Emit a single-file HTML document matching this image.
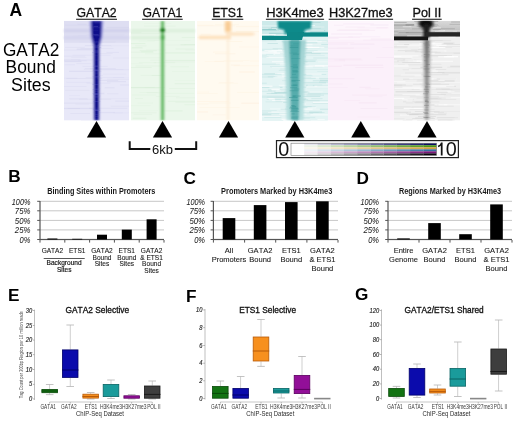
<!DOCTYPE html>
<html><head><meta charset="utf-8"><style>
html,body{margin:0;padding:0;background:#fff;width:520px;height:421px;overflow:hidden}
svg{display:block;font-family:"Liberation Sans", sans-serif;font-kerning:none;filter:blur(0.4px)}
</style></head><body>
<svg width="520" height="421" viewBox="0 0 520 421">
<defs>
<linearGradient id="tealcol" x1="0" y1="0" x2="0" y2="1"><stop offset="0" stop-color="#4aa6a6"/><stop offset="0.6" stop-color="#54abab"/><stop offset="1" stop-color="#62b2b2"/></linearGradient>
<linearGradient id="tealcolH" x1="0" y1="0" x2="0" y2="1"><stop offset="0" stop-color="#a0d2d2"/><stop offset="1" stop-color="#b8e0e0"/></linearGradient>
<linearGradient id="graycol" x1="0" y1="0" x2="0" y2="1"><stop offset="0" stop-color="#707070"/><stop offset="1" stop-color="#b0b0b0"/></linearGradient>
<linearGradient id="graycolH" x1="0" y1="0" x2="0" y2="1"><stop offset="0" stop-color="#b8b8b8"/><stop offset="1" stop-color="#dcdcdc"/></linearGradient>
<linearGradient id="graytop" x1="0" y1="0" x2="0" y2="1"><stop offset="0" stop-color="#dadada"/><stop offset="1" stop-color="#b2b2b2"/></linearGradient>
<clipPath id="hmclip"><rect x="0" y="20.8" width="520" height="99.8"/></clipPath>
<filter id="b05" x="-20%" y="-50%" width="140%" height="200%"><feGaussianBlur stdDeviation="0.5"/></filter>
<filter id="b1" x="-30%" y="-10%" width="160%" height="120%"><feGaussianBlur stdDeviation="0.9"/></filter>
<filter id="b15" x="-30%" y="-10%" width="160%" height="120%"><feGaussianBlur stdDeviation="1.5"/></filter>
</defs>
<rect width="520" height="421" fill="#fff"/>
<text x="9.6" y="15.6" font-size="17.5" text-anchor="start" font-weight="bold" font-style="normal" fill="#000">A</text>
<text x="31.15" y="55.8" font-size="17.5" text-anchor="middle" font-weight="normal" font-style="normal" fill="#000" textLength="56.4" lengthAdjust="spacingAndGlyphs">GATA2</text>
<text x="30.7" y="73.3" font-size="17.5" text-anchor="middle" font-weight="normal" font-style="normal" fill="#000" textLength="50.2" lengthAdjust="spacingAndGlyphs">Bound</text>
<text x="30.85" y="91.1" font-size="17.5" text-anchor="middle" font-weight="normal" font-style="normal" fill="#000" textLength="39.6" lengthAdjust="spacingAndGlyphs">Sites</text>
<text x="96.55" y="16.5" font-size="12.3" text-anchor="middle" font-weight="normal" font-style="normal" fill="#111" textLength="40.1" lengthAdjust="spacingAndGlyphs" stroke="#111" stroke-width="0.3">GATA2</text>
<rect x="76.1" y="18.7" width="40.9" height="1.2" fill="#333"/>
<text x="162.4" y="16.5" font-size="12.3" text-anchor="middle" font-weight="normal" font-style="normal" fill="#111" textLength="39.8" lengthAdjust="spacingAndGlyphs" stroke="#111" stroke-width="0.3">GATA1</text>
<rect x="142.1" y="18.7" width="40.6" height="1.2" fill="#333"/>
<text x="227.55" y="16.5" font-size="12.3" text-anchor="middle" font-weight="normal" font-style="normal" fill="#111" textLength="30.7" lengthAdjust="spacingAndGlyphs" stroke="#111" stroke-width="0.3">ETS1</text>
<rect x="211.8" y="18.7" width="31.5" height="1.2" fill="#333"/>
<text x="295" y="16.5" font-size="12.3" text-anchor="middle" font-weight="normal" font-style="normal" fill="#111" textLength="57.4" lengthAdjust="spacingAndGlyphs" stroke="#111" stroke-width="0.3">H3K4me3</text>
<rect x="265.9" y="18.7" width="58.2" height="1.2" fill="#333"/>
<text x="360.9" y="16.5" font-size="12.3" text-anchor="middle" font-weight="normal" font-style="normal" fill="#111" textLength="63.6" lengthAdjust="spacingAndGlyphs" stroke="#111" stroke-width="0.3">H3K27me3</text>
<rect x="328.7" y="18.7" width="64.4" height="1.2" fill="#333"/>
<text x="426.9" y="16.5" font-size="12.3" text-anchor="middle" font-weight="normal" font-style="normal" fill="#111" textLength="28.8" lengthAdjust="spacingAndGlyphs" stroke="#111" stroke-width="0.3">Pol II</text>
<rect x="412.1" y="18.7" width="29.6" height="1.2" fill="#333"/>
<g clip-path="url(#hmclip)">
<rect x="64" y="20.8" width="65" height="99.8" fill="#e8e8f8"/>
<rect x="64" y="20.8" width="65" height="22" fill="#dedef2"/>
<rect x="99.9" y="53.1" width="12.8" height="0.6" fill="#d0d0ec" opacity="0.41"/>
<rect x="109.8" y="30.2" width="19.2" height="0.8" fill="#d0d0ec" opacity="0.21"/>
<rect x="64.8" y="64.1" width="10.2" height="1.2" fill="#d0d0ec" opacity="0.21"/>
<rect x="85.8" y="77.2" width="38.3" height="0.6" fill="#d0d0ec" opacity="0.34"/>
<rect x="64.0" y="60.4" width="22.6" height="0.8" fill="#d0d0ec" opacity="0.27"/>
<rect x="78.2" y="35.2" width="11.8" height="0.8" fill="#d0d0ec" opacity="0.23"/>
<rect x="64.0" y="77.8" width="13.3" height="0.6" fill="#d0d0ec" opacity="0.34"/>
<rect x="86.6" y="82.6" width="23.9" height="1.0" fill="#d0d0ec" opacity="0.32"/>
<rect x="70.4" y="113.0" width="19.6" height="0.8" fill="#d0d0ec" opacity="0.37"/>
<rect x="84.9" y="45.2" width="26.4" height="1.0" fill="#d0d0ec" opacity="0.38"/>
<rect x="64.0" y="49.5" width="27.4" height="1.2" fill="#d0d0ec" opacity="0.24"/>
<rect x="72.5" y="54.9" width="37.9" height="0.6" fill="#d0d0ec" opacity="0.39"/>
<rect x="66.4" y="78.0" width="36.0" height="1.0" fill="#d0d0ec" opacity="0.35"/>
<rect x="107.3" y="78.7" width="21.7" height="1.0" fill="#d0d0ec" opacity="0.32"/>
<rect x="104.6" y="87.1" width="9.9" height="1.2" fill="#d0d0ec" opacity="0.27"/>
<rect x="64.0" y="59.3" width="16.2" height="1.2" fill="#d0d0ec" opacity="0.29"/>
<rect x="66.3" y="81.8" width="23.8" height="1.0" fill="#d0d0ec" opacity="0.23"/>
<rect x="110.4" y="45.5" width="18.6" height="0.6" fill="#d0d0ec" opacity="0.24"/>
<rect x="64.5" y="60.9" width="16.9" height="1.2" fill="#d0d0ec" opacity="0.42"/>
<rect x="76.7" y="48.6" width="21.3" height="1.2" fill="#d0d0ec" opacity="0.44"/>
<rect x="72.3" y="35.9" width="13.6" height="0.8" fill="#d0d0ec" opacity="0.20"/>
<rect x="75.4" y="103.7" width="13.8" height="0.8" fill="#d0d0ec" opacity="0.30"/>
<rect x="112.9" y="57.7" width="16.1" height="0.6" fill="#d0d0ec" opacity="0.31"/>
<rect x="89.0" y="107.7" width="38.5" height="1.2" fill="#d0d0ec" opacity="0.30"/>
<rect x="78.3" y="60.1" width="23.4" height="0.8" fill="#d0d0ec" opacity="0.22"/>
<rect x="79.5" y="41.6" width="13.2" height="0.6" fill="#d0d0ec" opacity="0.23"/>
<rect x="113.1" y="77.4" width="15.9" height="0.6" fill="#d0d0ec" opacity="0.22"/>
<rect x="95.2" y="41.6" width="20.0" height="1.0" fill="#d0d0ec" opacity="0.35"/>
<rect x="89.9" y="68.1" width="11.7" height="1.2" fill="#d0d0ec" opacity="0.32"/>
<rect x="106.4" y="51.9" width="12.6" height="1.0" fill="#d0d0ec" opacity="0.32"/>
<rect x="65.1" y="89.9" width="24.5" height="1.0" fill="#d0d0ec" opacity="0.24"/>
<rect x="93.9" y="75.0" width="8.9" height="0.6" fill="#d0d0ec" opacity="0.37"/>
<rect x="65.0" y="46.9" width="19.7" height="0.8" fill="#d0d0ec" opacity="0.33"/>
<rect x="69.2" y="98.5" width="18.5" height="0.8" fill="#d0d0ec" opacity="0.40"/>
<rect x="64.0" y="102.5" width="30.6" height="1.2" fill="#d0d0ec" opacity="0.29"/>
<rect x="77.7" y="23.7" width="8.9" height="1.0" fill="#d0d0ec" opacity="0.25"/>
<rect x="107.0" y="81.2" width="19.0" height="1.0" fill="#d0d0ec" opacity="0.44"/>
<rect x="71.2" y="57.2" width="15.1" height="0.8" fill="#d0d0ec" opacity="0.28"/>
<rect x="83.9" y="69.0" width="39.5" height="0.6" fill="#d0d0ec" opacity="0.32"/>
<rect x="64.0" y="86.0" width="22.3" height="0.6" fill="#d0d0ec" opacity="0.43"/>
<rect x="79.1" y="98.9" width="32.0" height="0.8" fill="#d0d0ec" opacity="0.31"/>
<rect x="120.1" y="84.3" width="8.9" height="1.2" fill="#d0d0ec" opacity="0.32"/>
<rect x="69.0" y="95.0" width="10.7" height="0.8" fill="#d0d0ec" opacity="0.21"/>
<rect x="95.2" y="79.8" width="22.9" height="1.2" fill="#d0d0ec" opacity="0.36"/>
<rect x="64.0" y="55.8" width="21.3" height="0.6" fill="#d0d0ec" opacity="0.40"/>
<rect x="107.1" y="93.3" width="11.3" height="0.8" fill="#d0d0ec" opacity="0.31"/>
<rect x="64.0" y="107.8" width="30.9" height="1.0" fill="#d0d0ec" opacity="0.25"/>
<rect x="69.0" y="70.8" width="32.4" height="1.2" fill="#d0d0ec" opacity="0.41"/>
<rect x="106.5" y="26.9" width="22.5" height="1.2" fill="#d0d0ec" opacity="0.41"/>
<rect x="67.8" y="108.4" width="12.2" height="0.6" fill="#d0d0ec" opacity="0.42"/>
<rect x="100.7" y="98.3" width="27.5" height="0.8" fill="#d0d0ec" opacity="0.24"/>
<rect x="84.6" y="68.1" width="31.2" height="1.0" fill="#d0d0ec" opacity="0.37"/>
<rect x="102.8" y="73.8" width="23.4" height="0.6" fill="#d0d0ec" opacity="0.26"/>
<rect x="80.6" y="48.4" width="32.7" height="0.6" fill="#d0d0ec" opacity="0.39"/>
<rect x="92.7" y="111.9" width="22.2" height="0.8" fill="#d0d0ec" opacity="0.37"/>
<rect x="82.5" y="65.9" width="25.1" height="0.8" fill="#d0d0ec" opacity="0.37"/>
<rect x="64.0" y="108.3" width="35.9" height="0.8" fill="#d0d0ec" opacity="0.41"/>
<rect x="86.8" y="34.5" width="11.9" height="0.6" fill="#d0d0ec" opacity="0.37"/>
<rect x="76.3" y="63.5" width="14.8" height="0.6" fill="#d0d0ec" opacity="0.42"/>
<rect x="91.5" y="36.2" width="30.9" height="0.8" fill="#d0d0ec" opacity="0.26"/>
<rect x="101.1" y="34.5" width="23.0" height="0.6" fill="#d0d0ec" opacity="0.30"/>
<rect x="98.3" y="69.4" width="30.7" height="0.8" fill="#d0d0ec" opacity="0.38"/>
<rect x="80.9" y="120.0" width="20.9" height="1.0" fill="#d0d0ec" opacity="0.28"/>
<rect x="95.7" y="92.9" width="8.6" height="1.2" fill="#d0d0ec" opacity="0.38"/>
<rect x="70.9" y="59.2" width="24.6" height="0.6" fill="#d0d0ec" opacity="0.23"/>
<rect x="113.3" y="112.5" width="15.3" height="0.6" fill="#d0d0ec" opacity="0.27"/>
<rect x="65.1" y="24.8" width="32.9" height="0.8" fill="#d0d0ec" opacity="0.40"/>
<rect x="110.7" y="105.6" width="18.3" height="1.2" fill="#d0d0ec" opacity="0.24"/>
<rect x="96.4" y="112.5" width="26.3" height="0.6" fill="#d0d0ec" opacity="0.27"/>
<rect x="115.3" y="100.6" width="13.7" height="1.0" fill="#d0d0ec" opacity="0.43"/>
<g filter="url(#b1)"><rect x="64" y="29.2" width="65" height="3" fill="#d0d0ec"/><rect x="64" y="36.2" width="65" height="3" fill="#d4d4ee"/></g>
<g filter="url(#b1)"><polygon points="89.5,20.8 103.5,20.8 102.5,37 100,46 99.6,120.6 93.4,120.6 93,46 90.5,37" fill="#8080d4" opacity="0.7"/><polygon points="91.6,20.8 101.4,20.8 101,36 99,45 98.8,120.6 94.4,120.6 94.1,45 92,36" fill="#08088a"/></g>
<rect x="92.4" y="84.1" width="6.8" height="0.8" fill="#7070d0" opacity="0.27"/>
<rect x="93.0" y="27.4" width="7.0" height="0.8" fill="#7070d0" opacity="0.18"/>
<rect x="92.5" y="76.0" width="7.2" height="0.8" fill="#7070d0" opacity="0.14"/>
<rect x="93.4" y="73.4" width="4.8" height="0.8" fill="#7070d0" opacity="0.15"/>
<rect x="93.9" y="25.8" width="4.7" height="0.8" fill="#7070d0" opacity="0.17"/>
<rect x="94.1" y="96.6" width="5.0" height="0.8" fill="#7070d0" opacity="0.15"/>
<rect x="94.1" y="55.4" width="4.1" height="0.8" fill="#7070d0" opacity="0.12"/>
<rect x="93.0" y="94.0" width="5.9" height="0.8" fill="#7070d0" opacity="0.21"/>
<rect x="95.1" y="114.1" width="4.4" height="0.8" fill="#7070d0" opacity="0.20"/>
<rect x="92.9" y="70.2" width="6.9" height="0.8" fill="#7070d0" opacity="0.21"/>
<rect x="92.6" y="89.4" width="7.4" height="0.8" fill="#7070d0" opacity="0.27"/>
<rect x="93.3" y="91.3" width="6.2" height="0.8" fill="#7070d0" opacity="0.18"/>
<rect x="93.5" y="26.2" width="4.5" height="0.8" fill="#7070d0" opacity="0.25"/>
<rect x="93.5" y="46.3" width="4.6" height="0.8" fill="#7070d0" opacity="0.27"/>
<rect x="93.0" y="107.7" width="6.3" height="0.8" fill="#7070d0" opacity="0.16"/>
<rect x="93.1" y="50.0" width="5.6" height="0.8" fill="#7070d0" opacity="0.20"/>
<rect x="93.9" y="47.1" width="7.4" height="0.8" fill="#7070d0" opacity="0.22"/>
<rect x="92.5" y="45.2" width="7.4" height="0.8" fill="#7070d0" opacity="0.18"/>
<rect x="93.9" y="20.9" width="5.3" height="0.8" fill="#7070d0" opacity="0.21"/>
<rect x="92.7" y="40.9" width="5.8" height="0.8" fill="#7070d0" opacity="0.17"/>
<rect x="93.0" y="29.8" width="5.4" height="0.8" fill="#7070d0" opacity="0.12"/>
<rect x="94.4" y="51.2" width="4.8" height="0.8" fill="#7070d0" opacity="0.22"/>
<rect x="93.9" y="95.7" width="6.3" height="0.8" fill="#7070d0" opacity="0.28"/>
<rect x="95.0" y="59.7" width="5.1" height="0.8" fill="#7070d0" opacity="0.15"/>
<rect x="92.6" y="93.1" width="6.3" height="0.8" fill="#7070d0" opacity="0.27"/>
<rect x="94.0" y="109.8" width="6.2" height="0.8" fill="#7070d0" opacity="0.27"/>
<rect x="93.7" y="34.7" width="5.8" height="0.8" fill="#7070d0" opacity="0.27"/>
<rect x="93.3" y="101.1" width="6.9" height="0.8" fill="#7070d0" opacity="0.28"/>
<rect x="92.8" y="89.0" width="6.4" height="0.8" fill="#7070d0" opacity="0.13"/>
<rect x="93.2" y="34.1" width="5.3" height="0.8" fill="#7070d0" opacity="0.27"/>
<rect x="93.8" y="76.5" width="6.2" height="0.8" fill="#7070d0" opacity="0.24"/>
<rect x="95.2" y="69.6" width="4.0" height="0.8" fill="#7070d0" opacity="0.25"/>
<rect x="94.0" y="71.0" width="5.9" height="0.8" fill="#7070d0" opacity="0.13"/>
<rect x="93.3" y="94.3" width="4.9" height="0.8" fill="#7070d0" opacity="0.17"/>
<rect x="94.7" y="93.6" width="4.7" height="0.8" fill="#7070d0" opacity="0.30"/>
<rect x="93.9" y="70.1" width="5.3" height="0.8" fill="#7070d0" opacity="0.24"/>
<rect x="93.8" y="97.3" width="6.2" height="0.8" fill="#7070d0" opacity="0.13"/>
<rect x="94.6" y="35.5" width="4.9" height="0.8" fill="#7070d0" opacity="0.17"/>
<rect x="93.7" y="77.5" width="4.0" height="0.8" fill="#7070d0" opacity="0.17"/>
<rect x="93.7" y="87.9" width="6.4" height="0.8" fill="#7070d0" opacity="0.17"/>
<rect x="93.7" y="72.4" width="5.6" height="0.8" fill="#7070d0" opacity="0.14"/>
<rect x="95.2" y="110.0" width="4.7" height="0.8" fill="#7070d0" opacity="0.29"/>
<rect x="94.4" y="22.5" width="5.6" height="0.8" fill="#7070d0" opacity="0.29"/>
<rect x="93.5" y="65.7" width="4.9" height="0.8" fill="#7070d0" opacity="0.29"/>
<rect x="92.9" y="41.8" width="6.0" height="0.8" fill="#7070d0" opacity="0.21"/>
<rect x="95.0" y="115.9" width="4.5" height="0.8" fill="#7070d0" opacity="0.21"/>
<rect x="92.8" y="109.3" width="6.5" height="0.8" fill="#7070d0" opacity="0.28"/>
<rect x="93.6" y="69.3" width="4.1" height="0.8" fill="#7070d0" opacity="0.21"/>
<rect x="93.4" y="65.8" width="5.1" height="0.8" fill="#7070d0" opacity="0.18"/>
<rect x="92.1" y="52.3" width="6.9" height="0.8" fill="#7070d0" opacity="0.26"/>
<rect x="131" y="20.8" width="64" height="99.8" fill="#ebf7eb"/>
<rect x="184.4" y="104.5" width="10.6" height="0.6" fill="#d6edd6" opacity="0.47"/>
<rect x="146.2" y="49.7" width="19.9" height="0.6" fill="#d6edd6" opacity="0.31"/>
<rect x="131.0" y="63.5" width="11.5" height="0.6" fill="#d6edd6" opacity="0.22"/>
<rect x="131.0" y="86.9" width="23.7" height="1.0" fill="#d6edd6" opacity="0.33"/>
<rect x="164.9" y="52.3" width="30.1" height="1.2" fill="#d6edd6" opacity="0.47"/>
<rect x="175.4" y="101.8" width="19.6" height="0.8" fill="#d6edd6" opacity="0.42"/>
<rect x="144.1" y="25.7" width="31.4" height="0.8" fill="#d6edd6" opacity="0.39"/>
<rect x="185.5" y="49.4" width="9.5" height="0.8" fill="#d6edd6" opacity="0.25"/>
<rect x="138.9" y="62.2" width="17.0" height="1.0" fill="#d6edd6" opacity="0.32"/>
<rect x="162.1" y="44.6" width="23.5" height="0.6" fill="#d6edd6" opacity="0.25"/>
<rect x="181.7" y="36.9" width="13.3" height="1.2" fill="#d6edd6" opacity="0.37"/>
<rect x="170.3" y="66.0" width="18.7" height="1.2" fill="#d6edd6" opacity="0.24"/>
<rect x="147.4" y="40.0" width="10.9" height="0.6" fill="#d6edd6" opacity="0.30"/>
<rect x="131.0" y="57.6" width="29.9" height="0.6" fill="#d6edd6" opacity="0.42"/>
<rect x="153.9" y="62.0" width="21.2" height="1.2" fill="#d6edd6" opacity="0.28"/>
<rect x="155.8" y="95.9" width="23.9" height="1.0" fill="#d6edd6" opacity="0.24"/>
<rect x="172.1" y="71.0" width="22.9" height="0.8" fill="#d6edd6" opacity="0.23"/>
<rect x="162.2" y="110.3" width="20.3" height="1.2" fill="#d6edd6" opacity="0.49"/>
<rect x="131.0" y="105.5" width="19.4" height="0.6" fill="#d6edd6" opacity="0.33"/>
<rect x="176.1" y="97.0" width="18.9" height="1.2" fill="#d6edd6" opacity="0.20"/>
<rect x="165.0" y="59.9" width="30.0" height="1.2" fill="#d6edd6" opacity="0.49"/>
<rect x="135.1" y="45.6" width="11.5" height="0.6" fill="#d6edd6" opacity="0.48"/>
<rect x="165.6" y="92.8" width="28.7" height="1.2" fill="#d6edd6" opacity="0.23"/>
<rect x="135.0" y="98.3" width="8.0" height="0.6" fill="#d6edd6" opacity="0.39"/>
<rect x="141.1" y="51.1" width="12.1" height="1.2" fill="#d6edd6" opacity="0.41"/>
<rect x="159.4" y="32.0" width="10.3" height="0.8" fill="#d6edd6" opacity="0.32"/>
<rect x="131.0" y="43.1" width="14.3" height="1.0" fill="#d6edd6" opacity="0.50"/>
<rect x="175.7" y="48.6" width="18.1" height="0.8" fill="#d6edd6" opacity="0.34"/>
<rect x="184.5" y="44.2" width="10.5" height="1.0" fill="#d6edd6" opacity="0.22"/>
<rect x="154.3" y="40.2" width="36.3" height="0.6" fill="#d6edd6" opacity="0.28"/>
<rect x="131.0" y="87.4" width="33.3" height="0.6" fill="#d6edd6" opacity="0.41"/>
<rect x="146.6" y="92.5" width="19.6" height="0.6" fill="#d6edd6" opacity="0.44"/>
<rect x="132.1" y="94.6" width="24.2" height="0.8" fill="#d6edd6" opacity="0.29"/>
<rect x="137.5" y="102.6" width="15.4" height="1.0" fill="#d6edd6" opacity="0.23"/>
<rect x="174.6" y="83.0" width="20.4" height="1.2" fill="#d6edd6" opacity="0.33"/>
<rect x="131.0" y="87.2" width="28.5" height="1.2" fill="#d6edd6" opacity="0.22"/>
<rect x="144.0" y="23.2" width="27.1" height="0.6" fill="#d6edd6" opacity="0.26"/>
<rect x="135.7" y="65.7" width="30.8" height="0.6" fill="#d6edd6" opacity="0.50"/>
<rect x="133.6" y="113.8" width="18.5" height="1.2" fill="#d6edd6" opacity="0.21"/>
<rect x="144.9" y="87.1" width="20.1" height="1.0" fill="#d6edd6" opacity="0.33"/>
<rect x="131.0" y="31.7" width="10.4" height="1.2" fill="#d6edd6" opacity="0.49"/>
<rect x="131.0" y="33.1" width="32.7" height="1.0" fill="#d6edd6" opacity="0.43"/>
<rect x="131.0" y="51.6" width="22.5" height="1.2" fill="#d6edd6" opacity="0.26"/>
<rect x="140.6" y="74.8" width="22.3" height="1.2" fill="#d6edd6" opacity="0.21"/>
<rect x="163.1" y="61.8" width="31.9" height="0.6" fill="#d6edd6" opacity="0.31"/>
<rect x="131.0" y="67.1" width="20.8" height="0.8" fill="#d6edd6" opacity="0.42"/>
<rect x="139.0" y="110.5" width="18.9" height="0.6" fill="#d6edd6" opacity="0.28"/>
<rect x="139.6" y="92.3" width="18.1" height="0.6" fill="#d6edd6" opacity="0.42"/>
<rect x="174.7" y="80.2" width="20.3" height="0.6" fill="#d6edd6" opacity="0.21"/>
<rect x="180.6" y="44.1" width="14.4" height="1.2" fill="#d6edd6" opacity="0.44"/>
<rect x="131.0" y="112.0" width="25.5" height="1.2" fill="#d6edd6" opacity="0.25"/>
<rect x="167.8" y="100.9" width="27.2" height="0.8" fill="#d6edd6" opacity="0.38"/>
<rect x="145.0" y="53.5" width="18.2" height="0.6" fill="#d6edd6" opacity="0.35"/>
<rect x="150.5" y="59.9" width="13.1" height="0.6" fill="#d6edd6" opacity="0.34"/>
<rect x="151.7" y="75.2" width="13.1" height="0.6" fill="#d6edd6" opacity="0.50"/>
<rect x="131.8" y="47.2" width="10.7" height="1.2" fill="#d6edd6" opacity="0.50"/>
<rect x="132.7" y="117.8" width="13.5" height="1.2" fill="#d6edd6" opacity="0.39"/>
<rect x="169.2" y="88.1" width="25.8" height="0.6" fill="#d6edd6" opacity="0.43"/>
<rect x="139.7" y="50.1" width="16.9" height="1.0" fill="#d6edd6" opacity="0.42"/>
<rect x="138.7" y="40.7" width="15.9" height="0.8" fill="#d6edd6" opacity="0.28"/>
<g filter="url(#b1)"><rect x="131" y="29.2" width="64" height="3" fill="#dcefdc"/><rect x="131" y="36.2" width="32" height="3" fill="#dcefdc"/></g>
<g filter="url(#b1)"><rect x="160" y="20.8" width="5" height="99.8" fill="#bce4bc" opacity="0.8"/><rect x="161.3" y="20.8" width="2.5" height="99.8" fill="#5cb65c"/><rect x="160.3" y="28.4" width="4.6" height="3.6" fill="#0a780a"/><rect x="160.8" y="35.5" width="3.6" height="4" fill="#4aa84a"/></g>
<rect x="197" y="20.8" width="62" height="99.8" fill="#fffaf0"/>
<rect x="197.0" y="111.4" width="11.0" height="1.0" fill="#fcecd4" opacity="0.40"/>
<rect x="239.4" y="71.4" width="15.4" height="1.2" fill="#fcecd4" opacity="0.40"/>
<rect x="236.2" y="31.0" width="22.8" height="1.2" fill="#fcecd4" opacity="0.38"/>
<rect x="197.0" y="24.8" width="16.1" height="0.8" fill="#fcecd4" opacity="0.32"/>
<rect x="197.0" y="103.4" width="11.8" height="0.8" fill="#fcecd4" opacity="0.29"/>
<rect x="239.2" y="46.7" width="19.8" height="0.6" fill="#fcecd4" opacity="0.33"/>
<rect x="197.0" y="91.6" width="11.9" height="1.0" fill="#fcecd4" opacity="0.23"/>
<rect x="226.1" y="41.2" width="16.2" height="0.8" fill="#fcecd4" opacity="0.36"/>
<rect x="209.5" y="102.5" width="21.1" height="1.0" fill="#fcecd4" opacity="0.22"/>
<rect x="215.0" y="23.9" width="23.9" height="1.2" fill="#fcecd4" opacity="0.22"/>
<rect x="223.8" y="60.3" width="25.6" height="0.6" fill="#fcecd4" opacity="0.33"/>
<rect x="249.9" y="60.5" width="9.1" height="1.0" fill="#fcecd4" opacity="0.28"/>
<rect x="235.9" y="25.9" width="23.1" height="1.2" fill="#fcecd4" opacity="0.28"/>
<rect x="199.6" y="107.1" width="39.9" height="0.8" fill="#fcecd4" opacity="0.28"/>
<rect x="204.8" y="61.2" width="38.1" height="0.8" fill="#fcecd4" opacity="0.28"/>
<rect x="241.2" y="102.7" width="17.8" height="1.2" fill="#fcecd4" opacity="0.35"/>
<rect x="201.0" y="33.8" width="9.7" height="1.2" fill="#fcecd4" opacity="0.22"/>
<rect x="218.3" y="82.9" width="19.9" height="0.8" fill="#fcecd4" opacity="0.27"/>
<rect x="197.0" y="36.9" width="10.9" height="1.2" fill="#fcecd4" opacity="0.30"/>
<rect x="197.0" y="101.1" width="31.7" height="0.8" fill="#fcecd4" opacity="0.37"/>
<rect x="197.9" y="25.1" width="37.2" height="1.2" fill="#fcecd4" opacity="0.22"/>
<rect x="237.2" y="91.9" width="21.8" height="0.8" fill="#fcecd4" opacity="0.32"/>
<rect x="219.2" y="82.1" width="14.3" height="0.8" fill="#fcecd4" opacity="0.21"/>
<rect x="212.8" y="114.5" width="13.0" height="0.8" fill="#fcecd4" opacity="0.25"/>
<rect x="197.0" y="93.1" width="20.9" height="0.6" fill="#fcecd4" opacity="0.33"/>
<rect x="215.0" y="53.2" width="20.5" height="1.0" fill="#fcecd4" opacity="0.33"/>
<rect x="213.1" y="51.6" width="16.0" height="1.0" fill="#fcecd4" opacity="0.29"/>
<rect x="231.0" y="64.5" width="8.7" height="1.2" fill="#fcecd4" opacity="0.29"/>
<rect x="233.9" y="65.4" width="25.1" height="0.8" fill="#fcecd4" opacity="0.36"/>
<rect x="214.2" y="60.8" width="10.1" height="1.0" fill="#fcecd4" opacity="0.22"/>
<g filter="url(#b1)"><rect x="226.5" y="20.8" width="3" height="99.8" fill="#fdefdc" opacity="0.8"/><polygon points="199,35.6 231,35.6 231,39.2 199,39.2" fill="#fde2c0"/><polygon points="226,32.2 252,32.2 256,34 252,35.8 226,35.8" fill="#fde4c6"/></g>
<g filter="url(#b15)"><rect x="225" y="21" width="6" height="11" fill="#f9cc94"/></g>
<rect x="262" y="20.8" width="66" height="99.8" fill="#e4f4f4"/>
<rect x="262.0" y="75.6" width="11.8" height="0.8" fill="#b8dede" opacity="0.33"/>
<rect x="283.4" y="99.1" width="24.7" height="0.6" fill="#b8dede" opacity="0.60"/>
<rect x="302.9" y="112.1" width="21.7" height="0.6" fill="#b8dede" opacity="0.64"/>
<rect x="304.0" y="120.3" width="23.6" height="0.8" fill="#b8dede" opacity="0.35"/>
<rect x="309.1" y="111.4" width="12.9" height="0.8" fill="#b8dede" opacity="0.57"/>
<rect x="311.3" y="98.1" width="11.3" height="1.0" fill="#b8dede" opacity="0.36"/>
<rect x="309.5" y="112.3" width="12.6" height="0.8" fill="#b8dede" opacity="0.40"/>
<rect x="292.3" y="117.7" width="17.5" height="0.8" fill="#b8dede" opacity="0.43"/>
<rect x="267.5" y="43.0" width="10.4" height="1.0" fill="#b8dede" opacity="0.57"/>
<rect x="308.8" y="112.2" width="10.0" height="0.6" fill="#b8dede" opacity="0.61"/>
<rect x="312.5" y="43.9" width="15.5" height="1.2" fill="#b8dede" opacity="0.52"/>
<rect x="262.0" y="86.8" width="20.5" height="1.2" fill="#b8dede" opacity="0.60"/>
<rect x="278.8" y="69.9" width="15.0" height="0.8" fill="#b8dede" opacity="0.44"/>
<rect x="265.4" y="101.6" width="16.6" height="0.6" fill="#b8dede" opacity="0.42"/>
<rect x="319.0" y="81.6" width="9.0" height="1.0" fill="#b8dede" opacity="0.59"/>
<rect x="275.5" y="100.2" width="11.3" height="1.2" fill="#b8dede" opacity="0.47"/>
<rect x="290.7" y="69.3" width="7.1" height="0.6" fill="#b8dede" opacity="0.31"/>
<rect x="262.0" y="40.2" width="14.3" height="1.0" fill="#b8dede" opacity="0.51"/>
<rect x="264.2" y="73.3" width="13.2" height="1.0" fill="#b8dede" opacity="0.55"/>
<rect x="319.2" y="78.3" width="8.8" height="0.8" fill="#b8dede" opacity="0.58"/>
<rect x="267.8" y="76.3" width="7.5" height="1.0" fill="#b8dede" opacity="0.46"/>
<rect x="301.4" y="61.3" width="6.3" height="1.0" fill="#b8dede" opacity="0.54"/>
<rect x="285.9" y="86.6" width="20.4" height="1.2" fill="#b8dede" opacity="0.40"/>
<rect x="293.6" y="112.8" width="7.1" height="1.2" fill="#b8dede" opacity="0.37"/>
<rect x="262.0" y="52.8" width="20.9" height="0.8" fill="#b8dede" opacity="0.36"/>
<rect x="285.2" y="56.1" width="20.6" height="1.2" fill="#b8dede" opacity="0.63"/>
<rect x="275.1" y="54.1" width="13.4" height="0.6" fill="#b8dede" opacity="0.70"/>
<rect x="288.8" y="98.4" width="17.5" height="1.2" fill="#b8dede" opacity="0.64"/>
<rect x="302.4" y="100.1" width="17.2" height="1.2" fill="#b8dede" opacity="0.37"/>
<rect x="298.4" y="120.3" width="12.3" height="0.6" fill="#b8dede" opacity="0.43"/>
<rect x="306.5" y="100.4" width="21.5" height="0.6" fill="#b8dede" opacity="0.41"/>
<rect x="305.8" y="84.6" width="16.5" height="1.0" fill="#b8dede" opacity="0.42"/>
<rect x="262.0" y="114.8" width="19.4" height="0.6" fill="#b8dede" opacity="0.37"/>
<rect x="262.3" y="112.9" width="26.2" height="0.8" fill="#b8dede" opacity="0.60"/>
<rect x="270.1" y="66.3" width="27.1" height="0.8" fill="#b8dede" opacity="0.45"/>
<rect x="312.7" y="108.7" width="15.3" height="1.2" fill="#b8dede" opacity="0.49"/>
<rect x="262.0" y="82.8" width="4.8" height="0.8" fill="#b8dede" opacity="0.53"/>
<rect x="297.5" y="64.8" width="11.1" height="0.6" fill="#b8dede" opacity="0.53"/>
<rect x="266.0" y="53.8" width="6.8" height="0.8" fill="#b8dede" opacity="0.44"/>
<rect x="262.0" y="51.4" width="6.1" height="0.6" fill="#b8dede" opacity="0.58"/>
<rect x="297.2" y="99.4" width="7.6" height="1.0" fill="#b8dede" opacity="0.38"/>
<rect x="296.4" y="116.9" width="18.8" height="1.2" fill="#b8dede" opacity="0.34"/>
<rect x="262.0" y="56.6" width="6.6" height="0.6" fill="#b8dede" opacity="0.63"/>
<rect x="262.1" y="90.9" width="12.9" height="0.6" fill="#b8dede" opacity="0.62"/>
<rect x="277.7" y="92.1" width="13.1" height="1.0" fill="#b8dede" opacity="0.31"/>
<rect x="302.8" y="60.7" width="12.8" height="1.0" fill="#b8dede" opacity="0.66"/>
<rect x="283.2" y="102.0" width="20.4" height="1.0" fill="#b8dede" opacity="0.55"/>
<rect x="282.9" y="42.5" width="15.9" height="0.6" fill="#b8dede" opacity="0.44"/>
<rect x="266.8" y="96.8" width="18.9" height="0.6" fill="#b8dede" opacity="0.53"/>
<rect x="288.3" y="63.1" width="16.5" height="1.0" fill="#b8dede" opacity="0.60"/>
<rect x="291.3" y="118.8" width="6.1" height="1.2" fill="#b8dede" opacity="0.58"/>
<rect x="286.5" y="106.5" width="29.2" height="1.0" fill="#b8dede" opacity="0.53"/>
<rect x="311.1" y="52.8" width="16.9" height="0.8" fill="#b8dede" opacity="0.50"/>
<rect x="262.0" y="48.9" width="16.0" height="0.6" fill="#b8dede" opacity="0.55"/>
<rect x="280.2" y="68.7" width="15.6" height="0.6" fill="#b8dede" opacity="0.47"/>
<rect x="274.5" y="92.1" width="14.9" height="1.2" fill="#b8dede" opacity="0.66"/>
<rect x="312.8" y="80.4" width="15.1" height="0.8" fill="#b8dede" opacity="0.68"/>
<rect x="297.4" y="50.2" width="20.3" height="0.6" fill="#b8dede" opacity="0.44"/>
<rect x="312.8" y="66.3" width="9.7" height="1.0" fill="#b8dede" opacity="0.37"/>
<rect x="287.9" y="75.4" width="24.6" height="0.8" fill="#b8dede" opacity="0.43"/>
<rect x="284.1" y="91.8" width="22.7" height="1.0" fill="#b8dede" opacity="0.42"/>
<rect x="262.0" y="96.7" width="23.3" height="0.8" fill="#b8dede" opacity="0.69"/>
<rect x="274.8" y="98.3" width="20.5" height="0.8" fill="#b8dede" opacity="0.43"/>
<rect x="295.4" y="55.3" width="29.4" height="0.6" fill="#b8dede" opacity="0.37"/>
<rect x="266.6" y="93.0" width="10.7" height="0.8" fill="#b8dede" opacity="0.62"/>
<rect x="266.7" y="99.1" width="16.4" height="0.6" fill="#b8dede" opacity="0.41"/>
<rect x="262.0" y="111.4" width="9.4" height="1.2" fill="#b8dede" opacity="0.58"/>
<rect x="282.0" y="80.3" width="21.2" height="0.8" fill="#b8dede" opacity="0.40"/>
<rect x="274.9" y="99.5" width="6.1" height="1.2" fill="#b8dede" opacity="0.58"/>
<rect x="307.1" y="87.3" width="20.9" height="0.8" fill="#b8dede" opacity="0.57"/>
<rect x="274.2" y="91.7" width="16.9" height="0.6" fill="#b8dede" opacity="0.66"/>
<rect x="301.2" y="59.5" width="15.6" height="0.8" fill="#b8dede" opacity="0.40"/>
<rect x="294.6" y="74.1" width="16.9" height="1.2" fill="#b8dede" opacity="0.51"/>
<rect x="307.6" y="93.3" width="20.4" height="1.0" fill="#b8dede" opacity="0.61"/>
<rect x="317.4" y="71.3" width="10.6" height="0.6" fill="#b8dede" opacity="0.40"/>
<rect x="313.2" y="57.6" width="14.8" height="0.8" fill="#b8dede" opacity="0.51"/>
<rect x="287.8" y="48.1" width="19.8" height="1.2" fill="#b8dede" opacity="0.50"/>
<rect x="283.5" y="91.5" width="25.9" height="1.2" fill="#b8dede" opacity="0.60"/>
<rect x="262.0" y="76.8" width="27.0" height="0.6" fill="#b8dede" opacity="0.59"/>
<rect x="268.0" y="89.5" width="21.3" height="1.2" fill="#b8dede" opacity="0.46"/>
<rect x="281.7" y="41.1" width="16.0" height="1.0" fill="#b8dede" opacity="0.53"/>
<rect x="281.8" y="48.8" width="13.3" height="0.8" fill="#b8dede" opacity="0.70"/>
<rect x="264.3" y="117.4" width="17.1" height="0.6" fill="#b8dede" opacity="0.62"/>
<rect x="290.5" y="91.1" width="17.3" height="0.8" fill="#b8dede" opacity="0.63"/>
<rect x="305.8" y="51.8" width="22.0" height="1.2" fill="#b8dede" opacity="0.49"/>
<rect x="262.0" y="63.7" width="17.8" height="1.2" fill="#b8dede" opacity="0.44"/>
<rect x="280.6" y="108.6" width="12.4" height="1.0" fill="#b8dede" opacity="0.69"/>
<rect x="306.4" y="94.7" width="17.6" height="1.0" fill="#b8dede" opacity="0.44"/>
<rect x="287.2" y="92.7" width="13.7" height="0.6" fill="#b8dede" opacity="0.56"/>
<rect x="304.2" y="69.2" width="23.8" height="0.6" fill="#b8dede" opacity="0.33"/>
<rect x="317.3" y="85.5" width="10.7" height="1.0" fill="#b8dede" opacity="0.55"/>
<rect x="321.7" y="41.2" width="6.3" height="1.0" fill="#b8dede" opacity="0.40"/>
<rect x="272.7" y="48.2" width="9.4" height="1.2" fill="#b8dede" opacity="0.44"/>
<rect x="300.4" y="52.3" width="27.6" height="0.8" fill="#b8dede" opacity="0.54"/>
<rect x="262.0" y="95.5" width="20.7" height="1.0" fill="#b8dede" opacity="0.38"/>
<rect x="301.6" y="95.8" width="18.7" height="1.2" fill="#b8dede" opacity="0.57"/>
<rect x="285.2" y="49.4" width="8.8" height="0.8" fill="#b8dede" opacity="0.49"/>
<rect x="312.9" y="84.9" width="15.1" height="1.2" fill="#b8dede" opacity="0.40"/>
<rect x="300.3" y="53.3" width="20.4" height="0.8" fill="#b8dede" opacity="0.64"/>
<rect x="296.2" y="77.7" width="19.5" height="1.2" fill="#b8dede" opacity="0.45"/>
<rect x="262.0" y="73.8" width="19.5" height="1.0" fill="#b8dede" opacity="0.55"/>
<rect x="296.7" y="42.3" width="20.6" height="1.0" fill="#b8dede" opacity="0.62"/>
<rect x="303.2" y="47.6" width="17.6" height="0.8" fill="#b8dede" opacity="0.31"/>
<rect x="273.8" y="97.9" width="21.0" height="1.0" fill="#b8dede" opacity="0.44"/>
<rect x="312.6" y="102.7" width="15.4" height="1.0" fill="#b8dede" opacity="0.47"/>
<rect x="306.9" y="74.0" width="19.3" height="1.0" fill="#b8dede" opacity="0.44"/>
<rect x="320.0" y="79.8" width="8.0" height="1.0" fill="#b8dede" opacity="0.69"/>
<rect x="271.3" y="92.8" width="25.0" height="1.0" fill="#b8dede" opacity="0.59"/>
<rect x="262.0" y="50.3" width="20.5" height="0.6" fill="#b8dede" opacity="0.46"/>
<rect x="292.0" y="84.7" width="15.7" height="1.2" fill="#b8dede" opacity="0.42"/>
<rect x="317.5" y="40.5" width="10.5" height="0.6" fill="#b8dede" opacity="0.62"/>
<rect x="292.4" y="113.3" width="20.7" height="0.6" fill="#b8dede" opacity="0.39"/>
<rect x="303.8" y="93.8" width="17.0" height="0.6" fill="#b8dede" opacity="0.57"/>
<rect x="262.0" y="110.1" width="14.7" height="0.6" fill="#b8dede" opacity="0.45"/>
<rect x="286.7" y="106.3" width="24.9" height="1.0" fill="#b8dede" opacity="0.64"/>
<rect x="262.0" y="54.9" width="4.8" height="0.6" fill="#b8dede" opacity="0.50"/>
<rect x="300.2" y="82.1" width="25.8" height="1.2" fill="#b8dede" opacity="0.53"/>
<rect x="262.0" y="114.0" width="9.3" height="1.2" fill="#b8dede" opacity="0.54"/>
<rect x="262.0" y="120.0" width="21.2" height="1.2" fill="#b8dede" opacity="0.52"/>
<rect x="312.5" y="46.7" width="15.5" height="0.6" fill="#b8dede" opacity="0.47"/>
<rect x="316.1" y="40.8" width="11.9" height="0.6" fill="#ffffff" opacity="0.59"/>
<rect x="271.5" y="49.8" width="17.3" height="0.8" fill="#ffffff" opacity="0.68"/>
<rect x="272.1" y="100.0" width="28.1" height="0.8" fill="#ffffff" opacity="0.79"/>
<rect x="298.3" y="46.8" width="21.1" height="1.2" fill="#ffffff" opacity="0.77"/>
<rect x="262.0" y="111.7" width="17.4" height="0.6" fill="#ffffff" opacity="0.50"/>
<rect x="305.1" y="41.2" width="21.6" height="0.6" fill="#ffffff" opacity="0.66"/>
<rect x="315.0" y="65.2" width="13.0" height="1.2" fill="#ffffff" opacity="0.74"/>
<rect x="295.6" y="65.5" width="28.8" height="1.2" fill="#ffffff" opacity="0.77"/>
<rect x="273.4" y="51.7" width="25.1" height="0.8" fill="#ffffff" opacity="0.75"/>
<rect x="306.3" y="73.7" width="15.3" height="1.0" fill="#ffffff" opacity="0.81"/>
<rect x="262.0" y="85.7" width="10.5" height="1.0" fill="#ffffff" opacity="0.85"/>
<rect x="268.8" y="98.5" width="6.4" height="1.0" fill="#ffffff" opacity="0.73"/>
<rect x="281.6" y="118.7" width="11.9" height="1.2" fill="#ffffff" opacity="0.74"/>
<rect x="268.0" y="112.2" width="25.4" height="0.6" fill="#ffffff" opacity="0.63"/>
<rect x="317.9" y="61.6" width="9.8" height="0.6" fill="#ffffff" opacity="0.62"/>
<rect x="313.8" y="51.3" width="14.2" height="0.8" fill="#ffffff" opacity="0.61"/>
<rect x="294.5" y="108.6" width="25.4" height="1.2" fill="#ffffff" opacity="0.64"/>
<rect x="305.0" y="46.9" width="19.3" height="0.8" fill="#ffffff" opacity="0.82"/>
<rect x="267.6" y="98.2" width="29.6" height="0.6" fill="#ffffff" opacity="0.77"/>
<rect x="273.3" y="77.5" width="11.0" height="0.6" fill="#ffffff" opacity="0.82"/>
<rect x="311.2" y="77.1" width="8.1" height="0.6" fill="#ffffff" opacity="0.59"/>
<rect x="306.7" y="86.7" width="21.3" height="1.0" fill="#ffffff" opacity="0.69"/>
<rect x="269.4" y="87.5" width="10.5" height="0.8" fill="#ffffff" opacity="0.82"/>
<rect x="275.8" y="63.4" width="19.9" height="0.8" fill="#ffffff" opacity="0.60"/>
<rect x="310.3" y="114.4" width="17.7" height="1.0" fill="#ffffff" opacity="0.75"/>
<rect x="296.5" y="103.5" width="9.7" height="1.0" fill="#ffffff" opacity="0.61"/>
<rect x="271.4" y="88.9" width="8.3" height="1.2" fill="#ffffff" opacity="0.73"/>
<rect x="266.4" y="57.2" width="28.2" height="0.6" fill="#ffffff" opacity="0.88"/>
<rect x="312.8" y="101.8" width="15.2" height="1.0" fill="#ffffff" opacity="0.84"/>
<rect x="272.0" y="67.3" width="29.9" height="0.6" fill="#ffffff" opacity="0.52"/>
<rect x="278.8" y="84.9" width="26.9" height="0.6" fill="#ffffff" opacity="0.85"/>
<rect x="294.6" y="91.6" width="28.1" height="0.6" fill="#ffffff" opacity="0.60"/>
<rect x="314.4" y="85.5" width="13.6" height="1.2" fill="#ffffff" opacity="0.57"/>
<rect x="270.1" y="108.5" width="14.9" height="0.8" fill="#ffffff" opacity="0.57"/>
<rect x="262.0" y="115.9" width="18.2" height="0.6" fill="#ffffff" opacity="0.83"/>
<rect x="296.4" y="43.8" width="24.9" height="1.2" fill="#ffffff" opacity="0.52"/>
<rect x="311.9" y="51.7" width="16.1" height="1.0" fill="#ffffff" opacity="0.74"/>
<rect x="282.2" y="75.6" width="21.7" height="1.0" fill="#ffffff" opacity="0.60"/>
<rect x="264.4" y="50.0" width="17.6" height="0.8" fill="#ffffff" opacity="0.82"/>
<rect x="279.2" y="113.7" width="27.4" height="0.8" fill="#ffffff" opacity="0.82"/>
<rect x="262.0" y="52.7" width="18.1" height="1.0" fill="#ffffff" opacity="0.86"/>
<rect x="262.0" y="51.3" width="14.8" height="1.2" fill="#ffffff" opacity="0.84"/>
<rect x="276.0" y="90.6" width="16.9" height="0.8" fill="#ffffff" opacity="0.69"/>
<rect x="271.9" y="90.6" width="9.4" height="0.6" fill="#ffffff" opacity="0.57"/>
<rect x="277.3" y="76.4" width="27.3" height="0.8" fill="#ffffff" opacity="0.61"/>
<rect x="275.0" y="73.2" width="9.7" height="1.0" fill="#ffffff" opacity="0.63"/>
<rect x="274.1" y="53.5" width="17.8" height="1.2" fill="#ffffff" opacity="0.55"/>
<rect x="317.4" y="118.9" width="7.4" height="0.8" fill="#ffffff" opacity="0.72"/>
<rect x="307.4" y="107.3" width="8.9" height="1.0" fill="#ffffff" opacity="0.67"/>
<rect x="271.9" y="61.1" width="11.7" height="1.2" fill="#ffffff" opacity="0.62"/>
<rect x="262" y="20.8" width="66" height="15.2" fill="#cdeaea"/>
<rect x="306.4" y="34.4" width="7.1" height="1.0" fill="#84c4c4" opacity="0.37"/>
<rect x="288.3" y="30.5" width="14.4" height="0.8" fill="#84c4c4" opacity="0.52"/>
<rect x="268.9" y="32.8" width="23.9" height="1.0" fill="#84c4c4" opacity="0.52"/>
<rect x="294.6" y="34.7" width="10.1" height="0.8" fill="#84c4c4" opacity="0.72"/>
<rect x="268.4" y="28.7" width="10.4" height="0.6" fill="#84c4c4" opacity="0.71"/>
<rect x="302.3" y="34.3" width="19.9" height="0.8" fill="#84c4c4" opacity="0.40"/>
<rect x="305.8" y="30.1" width="19.4" height="1.0" fill="#84c4c4" opacity="0.40"/>
<rect x="279.0" y="21.8" width="19.9" height="0.6" fill="#84c4c4" opacity="0.56"/>
<rect x="298.5" y="26.1" width="11.4" height="1.2" fill="#84c4c4" opacity="0.35"/>
<rect x="262.0" y="27.0" width="19.0" height="1.0" fill="#84c4c4" opacity="0.42"/>
<rect x="262.0" y="29.4" width="14.8" height="1.0" fill="#84c4c4" opacity="0.59"/>
<rect x="317.1" y="33.8" width="10.9" height="0.6" fill="#84c4c4" opacity="0.36"/>
<rect x="308.4" y="31.7" width="19.6" height="1.0" fill="#84c4c4" opacity="0.69"/>
<rect x="312.8" y="34.0" width="15.2" height="1.0" fill="#84c4c4" opacity="0.74"/>
<rect x="288.2" y="35.3" width="15.4" height="0.8" fill="#84c4c4" opacity="0.31"/>
<rect x="268.9" y="35.5" width="10.3" height="0.6" fill="#84c4c4" opacity="0.46"/>
<rect x="262.0" y="29.2" width="13.4" height="0.8" fill="#84c4c4" opacity="0.43"/>
<rect x="283.6" y="33.5" width="18.1" height="0.8" fill="#84c4c4" opacity="0.65"/>
<rect x="298.1" y="22.4" width="22.5" height="0.6" fill="#84c4c4" opacity="0.44"/>
<rect x="303.7" y="27.9" width="17.1" height="0.6" fill="#84c4c4" opacity="0.36"/>
<rect x="296.8" y="27.0" width="8.6" height="0.8" fill="#84c4c4" opacity="0.37"/>
<rect x="262.8" y="29.5" width="20.2" height="0.6" fill="#84c4c4" opacity="0.77"/>
<rect x="310.4" y="26.7" width="14.0" height="0.6" fill="#ffffff" opacity="0.60"/>
<rect x="274.0" y="35.1" width="20.8" height="0.8" fill="#ffffff" opacity="0.82"/>
<rect x="288.2" y="31.7" width="22.0" height="1.0" fill="#ffffff" opacity="0.81"/>
<rect x="292.6" y="33.7" width="7.0" height="1.0" fill="#ffffff" opacity="0.52"/>
<rect x="277.0" y="27.2" width="18.0" height="0.8" fill="#ffffff" opacity="0.43"/>
<rect x="262.0" y="27.4" width="9.2" height="0.8" fill="#ffffff" opacity="0.61"/>
<rect x="279.5" y="26.8" width="25.0" height="0.6" fill="#ffffff" opacity="0.80"/>
<rect x="262.0" y="34.2" width="13.7" height="1.0" fill="#ffffff" opacity="0.86"/>
<rect x="306.2" y="30.3" width="17.9" height="0.6" fill="#ffffff" opacity="0.71"/>
<rect x="282.7" y="24.6" width="15.9" height="0.6" fill="#ffffff" opacity="0.54"/>
<rect x="262.0" y="25.4" width="17.1" height="1.0" fill="#ffffff" opacity="0.44"/>
<rect x="279.2" y="29.8" width="23.7" height="0.8" fill="#ffffff" opacity="0.84"/>
<rect x="271.6" y="34.7" width="17.0" height="0.6" fill="#ffffff" opacity="0.77"/>
<rect x="300.5" y="25.2" width="14.6" height="0.8" fill="#ffffff" opacity="0.73"/>
<rect x="282.7" y="23.9" width="19.5" height="1.0" fill="#ffffff" opacity="0.71"/>
<rect x="272.0" y="27.9" width="11.9" height="0.8" fill="#ffffff" opacity="0.49"/>
<rect x="276.0" y="29.1" width="24.4" height="1.0" fill="#ffffff" opacity="0.48"/>
<rect x="277.4" y="35.3" width="12.2" height="1.0" fill="#ffffff" opacity="0.54"/>
<g filter="url(#b1)"><polygon points="277.5,20.8 311.5,20.8 311,28.5 305,30 304,34 285,34 284,30 278,28.5" fill="#0a8a8a"/><polygon points="283,40 306,40 304.5,70 303.5,120.6 286.5,120.6 285.5,70" fill="url(#tealcolH)"/><polygon points="289,40 300.5,40 299.5,70 299,120.6 290.8,120.6 290.2,70" fill="url(#tealcol)"/></g>
<rect x="293.5" y="119.6" width="4.8" height="0.9" fill="#2a8e8e" opacity="0.25"/>
<rect x="290.4" y="45.4" width="8.2" height="0.9" fill="#2a8e8e" opacity="0.22"/>
<rect x="292.9" y="71.3" width="5.6" height="0.9" fill="#2a8e8e" opacity="0.23"/>
<rect x="291.4" y="58.1" width="8.8" height="0.9" fill="#2a8e8e" opacity="0.25"/>
<rect x="292.9" y="67.2" width="5.1" height="0.9" fill="#2a8e8e" opacity="0.38"/>
<rect x="290.9" y="108.5" width="7.9" height="0.9" fill="#2a8e8e" opacity="0.42"/>
<rect x="290.9" y="99.9" width="7.6" height="0.9" fill="#2a8e8e" opacity="0.44"/>
<rect x="289.1" y="97.1" width="8.5" height="0.9" fill="#2a8e8e" opacity="0.46"/>
<rect x="291.3" y="40.3" width="7.6" height="0.9" fill="#2a8e8e" opacity="0.35"/>
<rect x="291.3" y="117.6" width="6.4" height="0.9" fill="#2a8e8e" opacity="0.44"/>
<rect x="291.0" y="110.3" width="6.6" height="0.9" fill="#2a8e8e" opacity="0.34"/>
<rect x="290.3" y="76.9" width="7.3" height="0.9" fill="#2a8e8e" opacity="0.32"/>
<rect x="291.4" y="84.8" width="5.3" height="0.9" fill="#2a8e8e" opacity="0.44"/>
<rect x="291.6" y="108.5" width="6.0" height="0.9" fill="#2a8e8e" opacity="0.26"/>
<rect x="293.2" y="64.5" width="3.9" height="0.9" fill="#2a8e8e" opacity="0.37"/>
<rect x="289.8" y="47.1" width="8.5" height="0.9" fill="#2a8e8e" opacity="0.45"/>
<rect x="289.2" y="107.6" width="8.8" height="0.9" fill="#2a8e8e" opacity="0.33"/>
<rect x="291.5" y="113.4" width="3.1" height="0.9" fill="#2a8e8e" opacity="0.37"/>
<rect x="291.6" y="80.1" width="8.5" height="0.9" fill="#2a8e8e" opacity="0.36"/>
<rect x="291.8" y="120.5" width="6.1" height="0.9" fill="#2a8e8e" opacity="0.41"/>
<rect x="292.6" y="71.4" width="5.1" height="0.9" fill="#2a8e8e" opacity="0.31"/>
<rect x="291.4" y="116.4" width="7.1" height="0.9" fill="#2a8e8e" opacity="0.23"/>
<rect x="292.3" y="70.2" width="5.4" height="0.9" fill="#2a8e8e" opacity="0.37"/>
<rect x="290.4" y="110.9" width="8.8" height="0.9" fill="#2a8e8e" opacity="0.33"/>
<rect x="289.7" y="90.3" width="9.0" height="0.9" fill="#2a8e8e" opacity="0.36"/>
<rect x="292.1" y="105.8" width="4.0" height="0.9" fill="#2a8e8e" opacity="0.49"/>
<rect x="290.2" y="106.6" width="6.1" height="0.9" fill="#2a8e8e" opacity="0.47"/>
<rect x="292.8" y="95.6" width="7.9" height="0.9" fill="#2a8e8e" opacity="0.47"/>
<rect x="292.0" y="73.9" width="3.9" height="0.9" fill="#2a8e8e" opacity="0.35"/>
<rect x="291.5" y="80.7" width="4.1" height="0.9" fill="#2a8e8e" opacity="0.39"/>
<rect x="294.2" y="88.6" width="5.1" height="0.9" fill="#2a8e8e" opacity="0.39"/>
<rect x="293.2" y="43.4" width="5.5" height="0.9" fill="#2a8e8e" opacity="0.29"/>
<rect x="292.5" y="95.7" width="3.0" height="0.9" fill="#2a8e8e" opacity="0.45"/>
<rect x="290.1" y="87.2" width="7.0" height="0.9" fill="#2a8e8e" opacity="0.35"/>
<rect x="293.1" y="84.6" width="4.6" height="0.9" fill="#2a8e8e" opacity="0.36"/>
<rect x="291.2" y="120.4" width="6.4" height="0.9" fill="#2a8e8e" opacity="0.24"/>
<rect x="289.4" y="52.6" width="7.6" height="0.9" fill="#2a8e8e" opacity="0.23"/>
<rect x="293.0" y="53.7" width="6.1" height="0.9" fill="#2a8e8e" opacity="0.38"/>
<rect x="291.2" y="105.0" width="3.4" height="0.9" fill="#2a8e8e" opacity="0.43"/>
<rect x="290.6" y="66.0" width="7.3" height="0.9" fill="#2a8e8e" opacity="0.25"/>
<g filter="url(#b05)"><rect x="262" y="35.8" width="36" height="4.2" fill="#088787"/><polygon points="287,32 304,32 302,40 287,40" fill="#088787"/><rect x="298" y="32.4" width="30" height="4.2" fill="#088787"/></g>
<rect x="328" y="20.8" width="66" height="99.8" fill="#fbf0fa"/>
<rect x="328" y="20.8" width="66" height="19" fill="#fdf6fc"/>
<rect x="382.1" y="47.4" width="11.2" height="0.6" fill="#f4e2f2" opacity="0.40"/>
<rect x="328.0" y="65.7" width="13.8" height="1.2" fill="#f4e2f2" opacity="0.47"/>
<rect x="357.9" y="116.6" width="22.1" height="0.8" fill="#f4e2f2" opacity="0.37"/>
<rect x="328.0" y="36.7" width="24.8" height="0.6" fill="#f4e2f2" opacity="0.57"/>
<rect x="358.9" y="102.2" width="17.7" height="1.2" fill="#f4e2f2" opacity="0.59"/>
<rect x="357.7" y="27.5" width="29.7" height="0.8" fill="#f4e2f2" opacity="0.42"/>
<rect x="328.0" y="60.6" width="16.9" height="0.8" fill="#f4e2f2" opacity="0.33"/>
<rect x="328.0" y="37.8" width="10.6" height="1.0" fill="#f4e2f2" opacity="0.42"/>
<rect x="376.2" y="57.0" width="17.8" height="1.0" fill="#f4e2f2" opacity="0.42"/>
<rect x="376.5" y="27.3" width="11.9" height="1.0" fill="#f4e2f2" opacity="0.47"/>
<rect x="339.3" y="59.5" width="22.9" height="1.2" fill="#f4e2f2" opacity="0.31"/>
<rect x="328.8" y="87.1" width="18.9" height="0.8" fill="#f4e2f2" opacity="0.33"/>
<rect x="328.0" y="47.7" width="25.8" height="1.2" fill="#f4e2f2" opacity="0.44"/>
<rect x="344.4" y="100.1" width="15.7" height="0.8" fill="#f4e2f2" opacity="0.52"/>
<rect x="328.0" y="58.4" width="33.1" height="1.2" fill="#f4e2f2" opacity="0.45"/>
<rect x="328.0" y="43.5" width="19.9" height="1.0" fill="#f4e2f2" opacity="0.48"/>
<rect x="343.4" y="64.7" width="39.7" height="1.2" fill="#f4e2f2" opacity="0.48"/>
<rect x="328.0" y="42.0" width="26.1" height="0.6" fill="#f4e2f2" opacity="0.46"/>
<rect x="337.1" y="47.8" width="32.7" height="0.8" fill="#f4e2f2" opacity="0.39"/>
<rect x="334.3" y="59.7" width="10.8" height="0.8" fill="#f4e2f2" opacity="0.40"/>
<rect x="359.3" y="86.9" width="11.5" height="1.0" fill="#f4e2f2" opacity="0.54"/>
<rect x="368.4" y="96.5" width="14.2" height="0.6" fill="#f4e2f2" opacity="0.37"/>
<rect x="331.2" y="33.4" width="30.9" height="1.2" fill="#f4e2f2" opacity="0.55"/>
<rect x="355.4" y="67.2" width="28.1" height="0.8" fill="#f4e2f2" opacity="0.58"/>
<rect x="370.9" y="38.4" width="19.7" height="1.0" fill="#f4e2f2" opacity="0.57"/>
<rect x="343.3" y="23.3" width="30.5" height="1.2" fill="#f4e2f2" opacity="0.41"/>
<rect x="328.7" y="83.6" width="13.8" height="0.8" fill="#f4e2f2" opacity="0.51"/>
<rect x="334.1" y="24.8" width="9.3" height="0.8" fill="#f4e2f2" opacity="0.53"/>
<rect x="348.6" y="36.4" width="31.6" height="0.8" fill="#f4e2f2" opacity="0.47"/>
<rect x="350.4" y="43.5" width="23.9" height="1.2" fill="#f4e2f2" opacity="0.50"/>
<rect x="328.0" y="78.2" width="26.4" height="1.0" fill="#f4e2f2" opacity="0.57"/>
<rect x="360.6" y="108.1" width="26.7" height="0.8" fill="#f4e2f2" opacity="0.50"/>
<rect x="370.2" y="24.5" width="18.2" height="1.0" fill="#f4e2f2" opacity="0.52"/>
<rect x="338.9" y="29.4" width="30.2" height="0.8" fill="#f4e2f2" opacity="0.38"/>
<rect x="336.8" y="29.8" width="38.3" height="1.0" fill="#f4e2f2" opacity="0.51"/>
<rect x="352.2" y="94.5" width="34.6" height="1.2" fill="#f4e2f2" opacity="0.45"/>
<rect x="365.1" y="88.3" width="14.6" height="0.8" fill="#f4e2f2" opacity="0.45"/>
<rect x="363.2" y="39.7" width="30.8" height="1.0" fill="#f4e2f2" opacity="0.35"/>
<rect x="328.0" y="37.1" width="32.1" height="1.0" fill="#f4e2f2" opacity="0.37"/>
<rect x="345.4" y="26.7" width="19.5" height="0.8" fill="#f4e2f2" opacity="0.49"/>
<rect x="394" y="20.8" width="66" height="99.8" fill="#f0f0f0"/>
<rect x="414.9" y="51.1" width="22.5" height="1.2" fill="#d6d6d6" opacity="0.40"/>
<rect x="414.2" y="59.5" width="18.4" height="1.0" fill="#d6d6d6" opacity="0.58"/>
<rect x="421.3" y="50.8" width="23.0" height="0.8" fill="#d6d6d6" opacity="0.43"/>
<rect x="434.6" y="105.7" width="19.2" height="0.8" fill="#d6d6d6" opacity="0.57"/>
<rect x="434.7" y="52.5" width="25.3" height="1.2" fill="#d6d6d6" opacity="0.63"/>
<rect x="411.3" y="49.2" width="12.9" height="0.8" fill="#d6d6d6" opacity="0.32"/>
<rect x="394.7" y="112.2" width="13.3" height="1.0" fill="#d6d6d6" opacity="0.48"/>
<rect x="418.0" y="49.1" width="13.8" height="1.0" fill="#d6d6d6" opacity="0.42"/>
<rect x="421.4" y="84.9" width="7.1" height="1.2" fill="#d6d6d6" opacity="0.33"/>
<rect x="416.4" y="97.8" width="29.5" height="0.6" fill="#d6d6d6" opacity="0.56"/>
<rect x="436.9" y="117.1" width="17.7" height="1.0" fill="#d6d6d6" opacity="0.30"/>
<rect x="424.7" y="114.1" width="21.5" height="1.0" fill="#d6d6d6" opacity="0.56"/>
<rect x="394.0" y="46.3" width="13.6" height="1.2" fill="#d6d6d6" opacity="0.64"/>
<rect x="430.9" y="63.9" width="10.5" height="0.8" fill="#d6d6d6" opacity="0.34"/>
<rect x="428.0" y="97.9" width="13.4" height="1.2" fill="#d6d6d6" opacity="0.37"/>
<rect x="411.5" y="106.5" width="13.7" height="1.0" fill="#d6d6d6" opacity="0.64"/>
<rect x="397.4" y="60.4" width="7.4" height="1.2" fill="#d6d6d6" opacity="0.66"/>
<rect x="418.0" y="116.2" width="17.9" height="0.8" fill="#d6d6d6" opacity="0.70"/>
<rect x="394.0" y="88.6" width="19.9" height="0.8" fill="#d6d6d6" opacity="0.37"/>
<rect x="394.0" y="75.7" width="20.6" height="0.6" fill="#d6d6d6" opacity="0.64"/>
<rect x="413.0" y="78.6" width="11.2" height="0.6" fill="#d6d6d6" opacity="0.64"/>
<rect x="409.6" y="108.9" width="24.9" height="1.0" fill="#d6d6d6" opacity="0.33"/>
<rect x="441.3" y="44.5" width="18.7" height="0.6" fill="#d6d6d6" opacity="0.48"/>
<rect x="440.8" y="93.7" width="19.2" height="0.8" fill="#d6d6d6" opacity="0.45"/>
<rect x="425.9" y="40.3" width="25.3" height="0.8" fill="#d6d6d6" opacity="0.49"/>
<rect x="413.1" y="83.7" width="18.4" height="0.8" fill="#d6d6d6" opacity="0.69"/>
<rect x="437.1" y="117.5" width="20.9" height="0.6" fill="#d6d6d6" opacity="0.59"/>
<rect x="420.4" y="66.7" width="21.8" height="1.2" fill="#d6d6d6" opacity="0.68"/>
<rect x="403.0" y="78.7" width="21.5" height="1.0" fill="#d6d6d6" opacity="0.51"/>
<rect x="395.5" y="91.1" width="26.4" height="1.2" fill="#d6d6d6" opacity="0.58"/>
<rect x="420.7" y="51.8" width="19.9" height="1.2" fill="#d6d6d6" opacity="0.44"/>
<rect x="402.9" y="59.4" width="16.6" height="0.8" fill="#d6d6d6" opacity="0.37"/>
<rect x="394.0" y="111.7" width="17.0" height="1.0" fill="#d6d6d6" opacity="0.56"/>
<rect x="429.8" y="55.1" width="22.1" height="0.8" fill="#d6d6d6" opacity="0.52"/>
<rect x="394.0" y="58.3" width="17.3" height="0.6" fill="#d6d6d6" opacity="0.64"/>
<rect x="394.0" y="94.8" width="21.5" height="0.6" fill="#d6d6d6" opacity="0.55"/>
<rect x="415.2" y="117.4" width="18.4" height="1.2" fill="#d6d6d6" opacity="0.52"/>
<rect x="420.1" y="118.0" width="10.6" height="0.6" fill="#d6d6d6" opacity="0.35"/>
<rect x="405.9" y="102.6" width="7.4" height="1.0" fill="#d6d6d6" opacity="0.32"/>
<rect x="409.9" y="96.6" width="28.9" height="0.6" fill="#d6d6d6" opacity="0.58"/>
<rect x="421.3" y="74.3" width="27.3" height="0.8" fill="#d6d6d6" opacity="0.53"/>
<rect x="394.0" y="114.0" width="24.5" height="1.0" fill="#d6d6d6" opacity="0.62"/>
<rect x="407.7" y="99.3" width="6.3" height="0.8" fill="#d6d6d6" opacity="0.45"/>
<rect x="427.3" y="99.4" width="28.8" height="0.6" fill="#d6d6d6" opacity="0.63"/>
<rect x="408.3" y="68.5" width="14.5" height="0.6" fill="#d6d6d6" opacity="0.31"/>
<rect x="411.5" y="113.4" width="11.8" height="1.2" fill="#d6d6d6" opacity="0.31"/>
<rect x="437.9" y="119.7" width="16.6" height="1.2" fill="#d6d6d6" opacity="0.34"/>
<rect x="425.4" y="104.5" width="10.4" height="1.0" fill="#d6d6d6" opacity="0.65"/>
<rect x="419.8" y="94.0" width="26.1" height="1.0" fill="#d6d6d6" opacity="0.52"/>
<rect x="443.9" y="95.6" width="16.1" height="0.6" fill="#d6d6d6" opacity="0.31"/>
<rect x="417.1" y="120.2" width="17.7" height="0.6" fill="#d6d6d6" opacity="0.62"/>
<rect x="442.8" y="42.9" width="10.4" height="1.2" fill="#d6d6d6" opacity="0.64"/>
<rect x="412.3" y="118.0" width="22.6" height="0.8" fill="#d6d6d6" opacity="0.65"/>
<rect x="411.8" y="89.2" width="7.8" height="0.8" fill="#d6d6d6" opacity="0.42"/>
<rect x="397.5" y="50.6" width="21.0" height="1.0" fill="#d6d6d6" opacity="0.59"/>
<rect x="447.2" y="66.7" width="12.8" height="1.0" fill="#d6d6d6" opacity="0.30"/>
<rect x="394.0" y="86.7" width="8.4" height="1.2" fill="#d6d6d6" opacity="0.65"/>
<rect x="431.4" y="89.1" width="21.1" height="0.8" fill="#d6d6d6" opacity="0.41"/>
<rect x="402.3" y="62.0" width="18.0" height="0.8" fill="#d6d6d6" opacity="0.70"/>
<rect x="435.2" y="42.7" width="19.5" height="0.8" fill="#d6d6d6" opacity="0.61"/>
<rect x="407.3" y="91.0" width="21.2" height="1.0" fill="#d6d6d6" opacity="0.62"/>
<rect x="394.0" y="59.2" width="21.9" height="0.6" fill="#d6d6d6" opacity="0.42"/>
<rect x="415.7" y="101.5" width="23.7" height="0.8" fill="#d6d6d6" opacity="0.44"/>
<rect x="394.0" y="84.4" width="11.9" height="1.0" fill="#d6d6d6" opacity="0.57"/>
<rect x="414.9" y="111.2" width="24.8" height="0.8" fill="#d6d6d6" opacity="0.62"/>
<rect x="402.7" y="120.3" width="9.6" height="1.2" fill="#d6d6d6" opacity="0.46"/>
<rect x="443.1" y="71.9" width="16.9" height="0.6" fill="#d6d6d6" opacity="0.36"/>
<rect x="425.7" y="98.0" width="12.1" height="1.0" fill="#d6d6d6" opacity="0.33"/>
<rect x="418.5" y="55.3" width="28.2" height="1.0" fill="#d6d6d6" opacity="0.53"/>
<rect x="437.8" y="119.6" width="14.6" height="1.2" fill="#d6d6d6" opacity="0.59"/>
<rect x="402.0" y="114.3" width="26.1" height="0.8" fill="#d6d6d6" opacity="0.41"/>
<rect x="401.6" y="60.8" width="6.6" height="1.0" fill="#d6d6d6" opacity="0.39"/>
<rect x="420.0" y="41.6" width="7.1" height="1.0" fill="#d6d6d6" opacity="0.65"/>
<rect x="437.1" y="92.2" width="10.7" height="0.8" fill="#d6d6d6" opacity="0.54"/>
<rect x="439.1" y="46.4" width="20.9" height="1.0" fill="#d6d6d6" opacity="0.59"/>
<rect x="430.2" y="40.4" width="12.5" height="0.6" fill="#d6d6d6" opacity="0.56"/>
<rect x="410.0" y="114.4" width="11.1" height="0.6" fill="#d6d6d6" opacity="0.56"/>
<rect x="405.1" y="72.7" width="22.3" height="0.6" fill="#d6d6d6" opacity="0.65"/>
<rect x="430.4" y="104.2" width="8.1" height="1.2" fill="#d6d6d6" opacity="0.70"/>
<rect x="437.4" y="72.2" width="22.6" height="0.6" fill="#d6d6d6" opacity="0.67"/>
<rect x="394.0" y="85.5" width="18.5" height="1.0" fill="#d6d6d6" opacity="0.36"/>
<rect x="423.4" y="41.5" width="11.1" height="0.6" fill="#d6d6d6" opacity="0.44"/>
<rect x="431.8" y="69.2" width="14.3" height="0.8" fill="#d6d6d6" opacity="0.56"/>
<rect x="435.9" y="88.5" width="13.9" height="1.0" fill="#d6d6d6" opacity="0.63"/>
<rect x="433.3" y="78.5" width="6.8" height="1.2" fill="#d6d6d6" opacity="0.52"/>
<rect x="402.7" y="69.1" width="18.7" height="1.0" fill="#d6d6d6" opacity="0.30"/>
<rect x="434.2" y="78.3" width="21.7" height="1.0" fill="#d6d6d6" opacity="0.36"/>
<rect x="450.8" y="90.7" width="9.2" height="0.6" fill="#d6d6d6" opacity="0.55"/>
<rect x="398.0" y="49.9" width="19.0" height="0.8" fill="#d6d6d6" opacity="0.40"/>
<rect x="441.7" y="88.8" width="18.3" height="0.8" fill="#d6d6d6" opacity="0.51"/>
<rect x="411.6" y="68.3" width="23.0" height="1.2" fill="#d6d6d6" opacity="0.39"/>
<rect x="405.9" y="113.5" width="27.6" height="0.8" fill="#d6d6d6" opacity="0.43"/>
<rect x="438.1" y="112.8" width="8.6" height="0.6" fill="#d6d6d6" opacity="0.62"/>
<rect x="406.1" y="113.6" width="22.2" height="0.8" fill="#d6d6d6" opacity="0.53"/>
<rect x="442.3" y="73.0" width="17.7" height="0.8" fill="#d6d6d6" opacity="0.31"/>
<rect x="398.4" y="41.7" width="23.0" height="1.0" fill="#d6d6d6" opacity="0.38"/>
<rect x="403.0" y="101.2" width="21.4" height="1.2" fill="#d6d6d6" opacity="0.39"/>
<rect x="446.1" y="85.9" width="9.8" height="1.0" fill="#d6d6d6" opacity="0.68"/>
<rect x="394.0" y="51.0" width="12.4" height="0.6" fill="#d6d6d6" opacity="0.49"/>
<rect x="434.1" y="111.8" width="9.9" height="1.2" fill="#d6d6d6" opacity="0.38"/>
<rect x="437.8" y="44.2" width="22.2" height="1.0" fill="#d6d6d6" opacity="0.32"/>
<rect x="414.4" y="102.4" width="16.5" height="0.8" fill="#d6d6d6" opacity="0.70"/>
<rect x="398.1" y="64.0" width="6.6" height="0.6" fill="#d6d6d6" opacity="0.35"/>
<rect x="408.2" y="64.4" width="18.1" height="0.8" fill="#d6d6d6" opacity="0.49"/>
<rect x="428.4" y="72.0" width="15.9" height="1.2" fill="#d6d6d6" opacity="0.65"/>
<rect x="406.1" y="119.0" width="6.8" height="0.6" fill="#d6d6d6" opacity="0.32"/>
<rect x="416.6" y="80.7" width="11.6" height="0.6" fill="#d6d6d6" opacity="0.59"/>
<rect x="394.0" y="43.9" width="18.0" height="0.6" fill="#d6d6d6" opacity="0.35"/>
<rect x="417.6" y="79.3" width="9.3" height="0.8" fill="#d6d6d6" opacity="0.39"/>
<rect x="419.4" y="83.6" width="21.2" height="0.6" fill="#d6d6d6" opacity="0.51"/>
<rect x="394.0" y="107.7" width="19.6" height="0.8" fill="#d6d6d6" opacity="0.64"/>
<rect x="394.0" y="118.3" width="10.5" height="0.8" fill="#d6d6d6" opacity="0.31"/>
<rect x="394.0" y="61.7" width="27.6" height="0.6" fill="#d6d6d6" opacity="0.46"/>
<rect x="394.0" y="84.9" width="8.1" height="0.6" fill="#d6d6d6" opacity="0.56"/>
<rect x="430.0" y="83.8" width="19.2" height="1.0" fill="#d6d6d6" opacity="0.46"/>
<rect x="450.2" y="65.7" width="9.8" height="1.2" fill="#d6d6d6" opacity="0.60"/>
<rect x="440.6" y="111.1" width="19.4" height="0.6" fill="#d6d6d6" opacity="0.40"/>
<rect x="424.9" y="80.4" width="29.7" height="1.2" fill="#d6d6d6" opacity="0.70"/>
<rect x="394.0" y="106.5" width="16.7" height="0.6" fill="#d6d6d6" opacity="0.66"/>
<rect x="404.1" y="44.0" width="22.7" height="1.2" fill="#d6d6d6" opacity="0.52"/>
<rect x="394.0" y="65.4" width="14.7" height="1.2" fill="#ffffff" opacity="0.70"/>
<rect x="394.5" y="87.7" width="29.9" height="1.2" fill="#ffffff" opacity="0.64"/>
<rect x="396.9" y="45.2" width="29.4" height="1.0" fill="#ffffff" opacity="0.53"/>
<rect x="444.0" y="104.3" width="16.0" height="1.0" fill="#ffffff" opacity="0.60"/>
<rect x="403.7" y="107.8" width="26.6" height="1.2" fill="#ffffff" opacity="0.73"/>
<rect x="440.2" y="120.6" width="7.6" height="1.0" fill="#ffffff" opacity="0.71"/>
<rect x="397.0" y="82.5" width="25.5" height="0.8" fill="#ffffff" opacity="0.56"/>
<rect x="451.4" y="93.3" width="8.6" height="0.6" fill="#ffffff" opacity="0.63"/>
<rect x="408.9" y="69.2" width="26.7" height="1.2" fill="#ffffff" opacity="0.56"/>
<rect x="413.3" y="60.3" width="8.5" height="1.0" fill="#ffffff" opacity="0.68"/>
<rect x="452.1" y="47.1" width="7.9" height="0.6" fill="#ffffff" opacity="0.68"/>
<rect x="431.5" y="78.6" width="25.2" height="0.8" fill="#ffffff" opacity="0.50"/>
<rect x="428.7" y="50.5" width="17.7" height="1.0" fill="#ffffff" opacity="0.71"/>
<rect x="424.7" y="104.6" width="12.1" height="0.6" fill="#ffffff" opacity="0.73"/>
<rect x="436.3" y="44.7" width="10.3" height="1.0" fill="#ffffff" opacity="0.87"/>
<rect x="416.7" y="60.6" width="12.4" height="1.2" fill="#ffffff" opacity="0.84"/>
<rect x="438.2" y="56.3" width="16.2" height="1.0" fill="#ffffff" opacity="0.87"/>
<rect x="394.0" y="97.8" width="10.3" height="1.0" fill="#ffffff" opacity="0.89"/>
<rect x="400.7" y="74.7" width="20.6" height="0.8" fill="#ffffff" opacity="0.65"/>
<rect x="394.0" y="86.6" width="26.7" height="1.0" fill="#ffffff" opacity="0.53"/>
<rect x="394.0" y="56.4" width="18.6" height="1.2" fill="#ffffff" opacity="0.65"/>
<rect x="444.5" y="82.4" width="15.5" height="0.6" fill="#ffffff" opacity="0.54"/>
<rect x="426.0" y="85.4" width="28.4" height="1.2" fill="#ffffff" opacity="0.67"/>
<rect x="409.3" y="78.2" width="27.4" height="1.2" fill="#ffffff" opacity="0.55"/>
<rect x="406.2" y="100.7" width="6.2" height="0.8" fill="#ffffff" opacity="0.66"/>
<rect x="419.4" y="43.3" width="22.3" height="1.2" fill="#ffffff" opacity="0.81"/>
<rect x="394.0" y="49.5" width="10.7" height="0.6" fill="#ffffff" opacity="0.54"/>
<rect x="419.2" y="47.1" width="24.1" height="0.6" fill="#ffffff" opacity="0.83"/>
<rect x="443.9" y="56.1" width="14.1" height="1.2" fill="#ffffff" opacity="0.84"/>
<rect x="394.0" y="51.3" width="11.2" height="0.8" fill="#ffffff" opacity="0.63"/>
<rect x="394.0" y="55.3" width="27.1" height="1.0" fill="#ffffff" opacity="0.71"/>
<rect x="430.2" y="47.0" width="15.2" height="1.0" fill="#ffffff" opacity="0.72"/>
<rect x="394.0" y="81.2" width="11.4" height="1.0" fill="#ffffff" opacity="0.60"/>
<rect x="421.4" y="70.6" width="16.5" height="1.0" fill="#ffffff" opacity="0.58"/>
<rect x="409.2" y="44.2" width="18.9" height="1.2" fill="#ffffff" opacity="0.76"/>
<rect x="450.7" y="97.2" width="9.3" height="1.0" fill="#ffffff" opacity="0.58"/>
<rect x="394.0" y="114.1" width="13.1" height="1.0" fill="#ffffff" opacity="0.50"/>
<rect x="433.9" y="45.5" width="26.1" height="0.6" fill="#ffffff" opacity="0.61"/>
<rect x="434.4" y="104.2" width="13.0" height="1.2" fill="#ffffff" opacity="0.66"/>
<rect x="402.0" y="98.7" width="10.9" height="0.8" fill="#ffffff" opacity="0.67"/>
<rect x="447.3" y="91.5" width="7.2" height="0.6" fill="#ffffff" opacity="0.83"/>
<rect x="438.4" y="80.1" width="6.3" height="0.8" fill="#ffffff" opacity="0.70"/>
<rect x="402.4" y="94.3" width="22.2" height="0.8" fill="#ffffff" opacity="0.71"/>
<rect x="428.9" y="52.8" width="24.7" height="0.6" fill="#ffffff" opacity="0.69"/>
<rect x="394.0" y="56.3" width="7.4" height="0.8" fill="#ffffff" opacity="0.76"/>
<rect x="425.4" y="60.8" width="27.7" height="0.8" fill="#ffffff" opacity="0.85"/>
<rect x="400.0" y="114.5" width="9.2" height="1.2" fill="#ffffff" opacity="0.62"/>
<rect x="405.1" y="58.8" width="20.0" height="0.8" fill="#ffffff" opacity="0.62"/>
<rect x="398.6" y="60.8" width="19.2" height="0.8" fill="#ffffff" opacity="0.66"/>
<rect x="428.7" y="42.7" width="15.1" height="0.8" fill="#ffffff" opacity="0.76"/>
<rect x="394" y="20.8" width="66" height="16.2" fill="url(#graytop)"/>
<rect x="398.9" y="32.0" width="9.8" height="0.8" fill="#8a8a8a" opacity="0.47"/>
<rect x="444.6" y="31.8" width="8.2" height="0.6" fill="#8a8a8a" opacity="0.56"/>
<rect x="419.4" y="24.2" width="18.5" height="0.6" fill="#8a8a8a" opacity="0.42"/>
<rect x="416.6" y="26.4" width="20.3" height="0.6" fill="#8a8a8a" opacity="0.38"/>
<rect x="426.7" y="25.3" width="11.8" height="0.6" fill="#8a8a8a" opacity="0.38"/>
<rect x="434.2" y="28.4" width="20.6" height="0.8" fill="#8a8a8a" opacity="0.53"/>
<rect x="394.0" y="25.7" width="15.2" height="0.6" fill="#8a8a8a" opacity="0.44"/>
<rect x="394.0" y="36.1" width="12.5" height="1.0" fill="#8a8a8a" opacity="0.44"/>
<rect x="411.9" y="28.6" width="12.3" height="0.6" fill="#8a8a8a" opacity="0.62"/>
<rect x="427.2" y="25.6" width="7.3" height="0.6" fill="#8a8a8a" opacity="0.60"/>
<rect x="415.4" y="22.6" width="9.1" height="0.6" fill="#8a8a8a" opacity="0.31"/>
<rect x="432.8" y="29.1" width="7.8" height="0.8" fill="#8a8a8a" opacity="0.47"/>
<rect x="438.3" y="34.4" width="7.4" height="0.8" fill="#8a8a8a" opacity="0.44"/>
<rect x="394.0" y="31.5" width="4.2" height="1.2" fill="#8a8a8a" opacity="0.42"/>
<rect x="405.7" y="25.0" width="8.0" height="0.8" fill="#8a8a8a" opacity="0.50"/>
<rect x="420.8" y="29.5" width="8.2" height="0.8" fill="#8a8a8a" opacity="0.53"/>
<rect x="451.2" y="21.5" width="8.8" height="1.0" fill="#8a8a8a" opacity="0.46"/>
<rect x="405.6" y="24.1" width="8.4" height="0.8" fill="#8a8a8a" opacity="0.66"/>
<rect x="414.3" y="21.0" width="23.9" height="0.8" fill="#8a8a8a" opacity="0.58"/>
<rect x="394.0" y="24.5" width="20.3" height="1.0" fill="#8a8a8a" opacity="0.70"/>
<rect x="394.0" y="27.7" width="16.2" height="0.6" fill="#8a8a8a" opacity="0.33"/>
<rect x="428.1" y="30.2" width="10.4" height="0.6" fill="#8a8a8a" opacity="0.63"/>
<rect x="394.3" y="22.0" width="12.4" height="0.8" fill="#8a8a8a" opacity="0.55"/>
<rect x="405.8" y="32.0" width="21.5" height="1.2" fill="#8a8a8a" opacity="0.54"/>
<rect x="449.5" y="23.8" width="10.5" height="1.2" fill="#8a8a8a" opacity="0.31"/>
<rect x="423.3" y="33.6" width="8.8" height="0.8" fill="#ffffff" opacity="0.36"/>
<rect x="402.7" y="26.4" width="8.7" height="0.8" fill="#ffffff" opacity="0.57"/>
<rect x="394.0" y="32.3" width="3.8" height="1.2" fill="#ffffff" opacity="0.32"/>
<rect x="394.0" y="29.3" width="10.7" height="0.6" fill="#ffffff" opacity="0.38"/>
<rect x="434.9" y="30.9" width="22.1" height="0.6" fill="#ffffff" opacity="0.56"/>
<rect x="438.5" y="36.5" width="17.1" height="1.2" fill="#ffffff" opacity="0.57"/>
<rect x="444.4" y="32.9" width="8.6" height="1.0" fill="#ffffff" opacity="0.66"/>
<rect x="436.0" y="32.9" width="21.8" height="0.8" fill="#ffffff" opacity="0.47"/>
<rect x="441.0" y="34.2" width="19.0" height="1.0" fill="#ffffff" opacity="0.60"/>
<rect x="426.5" y="30.4" width="18.4" height="0.6" fill="#ffffff" opacity="0.69"/>
<rect x="443.9" y="33.6" width="10.8" height="0.8" fill="#ffffff" opacity="0.40"/>
<rect x="443.6" y="30.3" width="16.4" height="0.6" fill="#ffffff" opacity="0.46"/>
<rect x="428.5" y="33.5" width="21.1" height="1.0" fill="#ffffff" opacity="0.63"/>
<rect x="433.2" y="27.4" width="7.7" height="1.0" fill="#ffffff" opacity="0.57"/>
<rect x="407.1" y="35.4" width="14.1" height="1.0" fill="#ffffff" opacity="0.50"/>
<g filter="url(#b15)"><ellipse cx="426" cy="23.5" rx="7.5" ry="5" fill="#101010"/></g>
<g filter="url(#b1)"><rect x="423.5" y="24" width="6" height="14" fill="#1c1c1c"/><polygon points="422.5,40 431,40 430,120.6 424,120.6" fill="url(#graycolH)"/><polygon points="424.8,40 428.8,40 428.4,120.6 425.2,120.6" fill="url(#graycol)"/></g>
<rect x="426.5" y="41.3" width="2.4" height="0.9" fill="#777" opacity="0.33"/>
<rect x="424.4" y="88.7" width="3.8" height="0.9" fill="#777" opacity="0.26"/>
<rect x="424.5" y="68.5" width="5.4" height="0.9" fill="#777" opacity="0.29"/>
<rect x="425.9" y="47.1" width="3.1" height="0.9" fill="#777" opacity="0.33"/>
<rect x="423.0" y="93.3" width="5.2" height="0.9" fill="#777" opacity="0.40"/>
<rect x="423.2" y="43.3" width="5.3" height="0.9" fill="#777" opacity="0.28"/>
<rect x="424.2" y="117.2" width="3.4" height="0.9" fill="#777" opacity="0.47"/>
<rect x="423.7" y="89.2" width="5.6" height="0.9" fill="#777" opacity="0.35"/>
<rect x="426.3" y="117.0" width="4.0" height="0.9" fill="#777" opacity="0.26"/>
<rect x="425.6" y="106.9" width="2.6" height="0.9" fill="#777" opacity="0.20"/>
<rect x="423.8" y="54.1" width="5.8" height="0.9" fill="#777" opacity="0.44"/>
<rect x="423.9" y="60.2" width="3.4" height="0.9" fill="#777" opacity="0.37"/>
<rect x="424.4" y="109.5" width="4.1" height="0.9" fill="#777" opacity="0.48"/>
<rect x="423.2" y="112.0" width="4.7" height="0.9" fill="#777" opacity="0.39"/>
<rect x="423.5" y="75.8" width="5.8" height="0.9" fill="#777" opacity="0.40"/>
<rect x="425.1" y="90.9" width="3.5" height="0.9" fill="#777" opacity="0.40"/>
<rect x="424.4" y="113.1" width="4.0" height="0.9" fill="#777" opacity="0.49"/>
<rect x="424.7" y="44.6" width="5.3" height="0.9" fill="#777" opacity="0.37"/>
<rect x="425.5" y="76.1" width="5.0" height="0.9" fill="#777" opacity="0.42"/>
<rect x="425.2" y="100.4" width="2.1" height="0.9" fill="#777" opacity="0.24"/>
<rect x="423.0" y="116.8" width="5.6" height="0.9" fill="#777" opacity="0.38"/>
<rect x="425.4" y="86.5" width="2.2" height="0.9" fill="#777" opacity="0.42"/>
<rect x="426.0" y="91.7" width="3.1" height="0.9" fill="#777" opacity="0.29"/>
<rect x="426.4" y="83.9" width="3.7" height="0.9" fill="#777" opacity="0.39"/>
<rect x="424.1" y="104.9" width="4.7" height="0.9" fill="#777" opacity="0.49"/>
<rect x="423.8" y="97.2" width="4.8" height="0.9" fill="#777" opacity="0.25"/>
<rect x="425.0" y="86.4" width="5.3" height="0.9" fill="#777" opacity="0.30"/>
<rect x="425.9" y="51.3" width="4.1" height="0.9" fill="#777" opacity="0.25"/>
<rect x="424.9" y="99.5" width="2.7" height="0.9" fill="#777" opacity="0.22"/>
<rect x="426.4" y="64.0" width="3.5" height="0.9" fill="#777" opacity="0.49"/>
<rect x="426.5" y="55.1" width="3.2" height="0.9" fill="#777" opacity="0.26"/>
<rect x="423.7" y="65.9" width="3.8" height="0.9" fill="#777" opacity="0.28"/>
<rect x="426.4" y="71.8" width="3.5" height="0.9" fill="#777" opacity="0.28"/>
<rect x="423.8" y="56.4" width="5.6" height="0.9" fill="#777" opacity="0.45"/>
<rect x="423.7" y="91.4" width="5.1" height="0.9" fill="#777" opacity="0.25"/>
<rect x="425.0" y="101.0" width="3.9" height="0.9" fill="#777" opacity="0.40"/>
<rect x="424.8" y="100.7" width="3.1" height="0.9" fill="#777" opacity="0.48"/>
<rect x="425.6" y="82.7" width="3.2" height="0.9" fill="#777" opacity="0.28"/>
<rect x="426.7" y="102.2" width="2.2" height="0.9" fill="#777" opacity="0.37"/>
<rect x="423.2" y="68.5" width="5.8" height="0.9" fill="#777" opacity="0.27"/>
<g filter="url(#b05)"><rect x="394" y="36.5" width="34" height="3.8" fill="#121212"/><rect x="426" y="32.2" width="34" height="4.2" fill="#262626"/></g>
</g>
<polygon points="96.5,121 86.9,137.6 106.1,137.6" fill="#000"/>
<polygon points="162.5,121 152.9,137.6 172.1,137.6" fill="#000"/>
<polygon points="228.5,121 218.9,137.6 238.1,137.6" fill="#000"/>
<polygon points="294.8,121 285.2,137.6 304.40000000000003,137.6" fill="#000"/>
<polygon points="360.8,121 351.2,137.6 370.40000000000003,137.6" fill="#000"/>
<polygon points="427,121 417.4,137.6 436.6,137.6" fill="#000"/>
<path d="M129.7,141.3 V149 H150.3 M174.8,149 H196.2 V141.3" stroke="#111" stroke-width="2" fill="none"/>
<text x="162.5" y="153.7" font-size="13" text-anchor="middle" font-weight="normal" font-style="normal" fill="#111">6kb</text>
<rect x="276.5" y="140.6" width="181.9" height="17" fill="#fff" stroke="#222" stroke-width="1.2"/>
<text x="283.65" y="156.3" font-size="19.8" text-anchor="middle" font-weight="normal" font-style="normal" fill="#111">0</text>
<text x="451.35" y="156.3" font-size="19.8" text-anchor="middle" font-weight="normal" font-style="normal" fill="#111">0</text>
<path d="M441.7,142.5 V155.5" stroke="#111" stroke-width="1.75" fill="none"/>
<path d="M441.6,143.2 C440.9,144.9 439.6,145.9 438.1,146.5" stroke="#111" stroke-width="1.5" fill="none"/>
<rect x="291.00" y="143.20" width="13.28" height="2.08" fill="rgb(255, 255, 255)"/>
<rect x="291.00" y="145.23" width="13.28" height="2.08" fill="rgb(255, 255, 255)"/>
<rect x="291.00" y="147.27" width="13.28" height="2.08" fill="rgb(255, 255, 255)"/>
<rect x="291.00" y="149.30" width="13.28" height="2.08" fill="rgb(255, 255, 255)"/>
<rect x="291.00" y="151.33" width="13.28" height="2.08" fill="rgb(255, 255, 255)"/>
<rect x="291.00" y="153.37" width="13.28" height="2.08" fill="rgb(255, 255, 255)"/>
<rect x="304.23" y="143.20" width="13.28" height="2.08" fill="rgb(231, 231, 240)"/>
<rect x="304.23" y="145.23" width="13.28" height="2.08" fill="rgb(237, 244, 232)"/>
<rect x="304.23" y="147.27" width="13.28" height="2.08" fill="rgb(250, 246, 236)"/>
<rect x="304.23" y="149.30" width="13.28" height="2.08" fill="rgb(235, 241, 246)"/>
<rect x="304.23" y="151.33" width="13.28" height="2.08" fill="rgb(242, 232, 242)"/>
<rect x="304.23" y="153.37" width="13.28" height="2.08" fill="rgb(231, 230, 231)"/>
<rect x="317.45" y="143.20" width="13.28" height="2.08" fill="rgb(206, 206, 224)"/>
<rect x="317.45" y="145.23" width="13.28" height="2.08" fill="rgb(219, 234, 208)"/>
<rect x="317.45" y="147.27" width="13.28" height="2.08" fill="rgb(246, 236, 217)"/>
<rect x="317.45" y="149.30" width="13.28" height="2.08" fill="rgb(214, 226, 236)"/>
<rect x="317.45" y="151.33" width="13.28" height="2.08" fill="rgb(228, 209, 228)"/>
<rect x="317.45" y="153.37" width="13.28" height="2.08" fill="rgb(206, 205, 207)"/>
<rect x="330.68" y="143.20" width="13.28" height="2.08" fill="rgb(182, 182, 208)"/>
<rect x="330.68" y="145.23" width="13.28" height="2.08" fill="rgb(201, 224, 184)"/>
<rect x="330.68" y="147.27" width="13.28" height="2.08" fill="rgb(242, 226, 198)"/>
<rect x="330.68" y="149.30" width="13.28" height="2.08" fill="rgb(194, 212, 226)"/>
<rect x="330.68" y="151.33" width="13.28" height="2.08" fill="rgb(215, 186, 215)"/>
<rect x="330.68" y="153.37" width="13.28" height="2.08" fill="rgb(182, 180, 183)"/>
<rect x="343.91" y="143.20" width="13.28" height="2.08" fill="rgb(158, 158, 193)"/>
<rect x="343.91" y="145.23" width="13.28" height="2.08" fill="rgb(183, 213, 161)"/>
<rect x="343.91" y="147.27" width="13.28" height="2.08" fill="rgb(237, 217, 179)"/>
<rect x="343.91" y="149.30" width="13.28" height="2.08" fill="rgb(174, 198, 217)"/>
<rect x="343.91" y="151.33" width="13.28" height="2.08" fill="rgb(202, 163, 202)"/>
<rect x="343.91" y="153.37" width="13.28" height="2.08" fill="rgb(158, 155, 159)"/>
<rect x="357.14" y="143.20" width="13.28" height="2.08" fill="rgb(134, 134, 178)"/>
<rect x="357.14" y="145.23" width="13.28" height="2.08" fill="rgb(164, 202, 138)"/>
<rect x="357.14" y="147.27" width="13.28" height="2.08" fill="rgb(232, 208, 160)"/>
<rect x="357.14" y="149.30" width="13.28" height="2.08" fill="rgb(154, 184, 208)"/>
<rect x="357.14" y="151.33" width="13.28" height="2.08" fill="rgb(188, 140, 188)"/>
<rect x="357.14" y="153.37" width="13.28" height="2.08" fill="rgb(134, 130, 136)"/>
<rect x="370.36" y="143.20" width="13.28" height="2.08" fill="rgb(109, 109, 162)"/>
<rect x="370.36" y="145.23" width="13.28" height="2.08" fill="rgb(146, 192, 114)"/>
<rect x="370.36" y="147.27" width="13.28" height="2.08" fill="rgb(228, 198, 140)"/>
<rect x="370.36" y="149.30" width="13.28" height="2.08" fill="rgb(133, 169, 198)"/>
<rect x="370.36" y="151.33" width="13.28" height="2.08" fill="rgb(175, 116, 175)"/>
<rect x="370.36" y="153.37" width="13.28" height="2.08" fill="rgb(109, 104, 112)"/>
<rect x="383.59" y="143.20" width="13.28" height="2.08" fill="rgb(85, 85, 146)"/>
<rect x="383.59" y="145.23" width="13.28" height="2.08" fill="rgb(128, 182, 91)"/>
<rect x="383.59" y="147.27" width="13.28" height="2.08" fill="rgb(224, 188, 121)"/>
<rect x="383.59" y="149.30" width="13.28" height="2.08" fill="rgb(113, 155, 188)"/>
<rect x="383.59" y="151.33" width="13.28" height="2.08" fill="rgb(162, 93, 162)"/>
<rect x="383.59" y="153.37" width="13.28" height="2.08" fill="rgb(85, 79, 88)"/>
<rect x="396.82" y="143.20" width="13.28" height="2.08" fill="rgb(61, 61, 131)"/>
<rect x="396.82" y="145.23" width="13.28" height="2.08" fill="rgb(110, 171, 67)"/>
<rect x="396.82" y="147.27" width="13.28" height="2.08" fill="rgb(219, 179, 102)"/>
<rect x="396.82" y="149.30" width="13.28" height="2.08" fill="rgb(93, 141, 179)"/>
<rect x="396.82" y="151.33" width="13.28" height="2.08" fill="rgb(149, 70, 149)"/>
<rect x="396.82" y="153.37" width="13.28" height="2.08" fill="rgb(61, 54, 64)"/>
<rect x="410.05" y="143.20" width="13.28" height="2.08" fill="rgb(36, 36, 116)"/>
<rect x="410.05" y="145.23" width="13.28" height="2.08" fill="rgb(92, 160, 43)"/>
<rect x="410.05" y="147.27" width="13.28" height="2.08" fill="rgb(214, 170, 83)"/>
<rect x="410.05" y="149.30" width="13.28" height="2.08" fill="rgb(72, 126, 170)"/>
<rect x="410.05" y="151.33" width="13.28" height="2.08" fill="rgb(135, 47, 135)"/>
<rect x="410.05" y="153.37" width="13.28" height="2.08" fill="rgb(36, 29, 40)"/>
<rect x="423.27" y="143.20" width="13.28" height="2.08" fill="rgb(12, 12, 100)"/>
<rect x="423.27" y="145.23" width="13.28" height="2.08" fill="rgb(74, 150, 20)"/>
<rect x="423.27" y="147.27" width="13.28" height="2.08" fill="rgb(210, 160, 64)"/>
<rect x="423.27" y="149.30" width="13.28" height="2.08" fill="rgb(52, 112, 160)"/>
<rect x="423.27" y="151.33" width="13.28" height="2.08" fill="rgb(122, 24, 122)"/>
<rect x="423.27" y="153.37" width="13.28" height="2.08" fill="rgb(12, 4, 16)"/>
<rect x="291" y="143.2" width="145.5" height="12.200000000000017" fill="none" stroke="#777" stroke-width="0.6"/>
<text x="8.15" y="182.3" font-size="17.2" text-anchor="start" font-weight="bold" font-style="normal" fill="#000">B</text>
<text x="101.3" y="194.2" font-size="8.8" text-anchor="middle" font-weight="bold" font-style="normal" fill="#1a1a1a" textLength="108.2" lengthAdjust="spacingAndGlyphs">Binding Sites within Promoters</text>
<rect x="40" y="200.8" width="124" height="1" fill="#c8c8c8"/>
<rect x="40" y="210.3" width="124" height="1" fill="#c8c8c8"/>
<rect x="40" y="219.9" width="124" height="1" fill="#c8c8c8"/>
<rect x="40" y="229.4" width="124" height="1" fill="#c8c8c8"/>
<rect x="39.4" y="201" width="1.2" height="39" fill="#555"/>
<rect x="40" y="238.9" width="124" height="1.2" fill="#555"/>
<rect x="37.2" y="200.8" width="2.8" height="1" fill="#555"/>
<rect x="37.2" y="210.3" width="2.8" height="1" fill="#555"/>
<rect x="37.2" y="219.9" width="2.8" height="1" fill="#555"/>
<rect x="37.2" y="229.4" width="2.8" height="1" fill="#555"/>
<rect x="37.2" y="239.0" width="2.8" height="1" fill="#555"/>
<rect x="39.5" y="240" width="1" height="2.6" fill="#555"/>
<rect x="64.3" y="240" width="1" height="2.6" fill="#555"/>
<rect x="89.1" y="240" width="1" height="2.6" fill="#555"/>
<rect x="113.9" y="240" width="1" height="2.6" fill="#555"/>
<rect x="138.7" y="240" width="1" height="2.6" fill="#555"/>
<rect x="163.5" y="240" width="1" height="2.6" fill="#555"/>
<rect x="47.4" y="238.5" width="10" height="1.0" fill="#000"/>
<rect x="72.2" y="238.8" width="10" height="0.7" fill="#000"/>
<rect x="97.0" y="234.7" width="10" height="4.8" fill="#000"/>
<rect x="121.8" y="229.6" width="10" height="9.9" fill="#000"/>
<rect x="146.6" y="219.3" width="10" height="20.2" fill="#000"/>
<text x="30.4" y="204.8" font-size="8.6" text-anchor="end" font-weight="normal" font-style="italic" fill="#222" textLength="18.6" lengthAdjust="spacingAndGlyphs" stroke="#333" stroke-width="0.05">100%</text>
<text x="30.4" y="214.3" font-size="8.6" text-anchor="end" font-weight="normal" font-style="italic" fill="#222" textLength="15.6" lengthAdjust="spacingAndGlyphs" stroke="#333" stroke-width="0.05">75%</text>
<text x="30.4" y="223.9" font-size="8.6" text-anchor="end" font-weight="normal" font-style="italic" fill="#222" textLength="15.6" lengthAdjust="spacingAndGlyphs" stroke="#333" stroke-width="0.05">50%</text>
<text x="30.4" y="233.4" font-size="8.6" text-anchor="end" font-weight="normal" font-style="italic" fill="#222" textLength="15.6" lengthAdjust="spacingAndGlyphs" stroke="#333" stroke-width="0.05">25%</text>
<text x="30.4" y="243" font-size="8.6" text-anchor="end" font-weight="normal" font-style="italic" fill="#222" textLength="10.8" lengthAdjust="spacingAndGlyphs" stroke="#333" stroke-width="0.05">0%</text>
<text x="52.4" y="253.1" font-size="7.3" text-anchor="middle" font-weight="normal" font-style="normal" fill="#1a1a1a" textLength="21.5" lengthAdjust="spacingAndGlyphs" stroke="#1a1a1a" stroke-width="0.1">GATA2</text>
<text x="77.2" y="253.1" font-size="7.3" text-anchor="middle" font-weight="normal" font-style="normal" fill="#1a1a1a" textLength="16.4" lengthAdjust="spacingAndGlyphs" stroke="#1a1a1a" stroke-width="0.1">ETS1</text>
<text x="102.0" y="253.1" font-size="7.3" text-anchor="middle" font-weight="normal" font-style="normal" fill="#1a1a1a" textLength="21.5" lengthAdjust="spacingAndGlyphs" stroke="#1a1a1a" stroke-width="0.1">GATA2</text>
<text x="102.0" y="259.75" font-size="7.3" text-anchor="middle" font-weight="normal" font-style="normal" fill="#1a1a1a" textLength="19.0" lengthAdjust="spacingAndGlyphs" stroke="#1a1a1a" stroke-width="0.1">Bound</text>
<text x="102.0" y="266.4" font-size="7.3" text-anchor="middle" font-weight="normal" font-style="normal" fill="#1a1a1a" textLength="14.6" lengthAdjust="spacingAndGlyphs" stroke="#1a1a1a" stroke-width="0.1">Sites</text>
<text x="126.8" y="253.1" font-size="7.3" text-anchor="middle" font-weight="normal" font-style="normal" fill="#1a1a1a" textLength="16.4" lengthAdjust="spacingAndGlyphs" stroke="#1a1a1a" stroke-width="0.1">ETS1</text>
<text x="126.8" y="259.75" font-size="7.3" text-anchor="middle" font-weight="normal" font-style="normal" fill="#1a1a1a" textLength="19.0" lengthAdjust="spacingAndGlyphs" stroke="#1a1a1a" stroke-width="0.1">Bound</text>
<text x="126.8" y="266.4" font-size="7.3" text-anchor="middle" font-weight="normal" font-style="normal" fill="#1a1a1a" textLength="14.6" lengthAdjust="spacingAndGlyphs" stroke="#1a1a1a" stroke-width="0.1">Sites</text>
<text x="151.60000000000002" y="253.1" font-size="7.3" text-anchor="middle" font-weight="normal" font-style="normal" fill="#1a1a1a" textLength="21.5" lengthAdjust="spacingAndGlyphs" stroke="#1a1a1a" stroke-width="0.1">GATA2</text>
<text x="151.60000000000002" y="259.75" font-size="7.3" text-anchor="middle" font-weight="normal" font-style="normal" fill="#1a1a1a" textLength="22.6" lengthAdjust="spacingAndGlyphs" stroke="#1a1a1a" stroke-width="0.1">&amp; ETS1</text>
<text x="151.60000000000002" y="266.4" font-size="7.3" text-anchor="middle" font-weight="normal" font-style="normal" fill="#1a1a1a" textLength="19.0" lengthAdjust="spacingAndGlyphs" stroke="#1a1a1a" stroke-width="0.1">Bound</text>
<text x="151.60000000000002" y="273.05" font-size="7.3" text-anchor="middle" font-weight="normal" font-style="normal" fill="#1a1a1a" textLength="14.6" lengthAdjust="spacingAndGlyphs" stroke="#1a1a1a" stroke-width="0.1">Sites</text>
<rect x="43.7" y="258" width="41" height="0.9" fill="#444"/>
<text x="64.1" y="265" font-size="7.3" text-anchor="middle" font-weight="normal" font-style="normal" fill="#111" textLength="35" lengthAdjust="spacingAndGlyphs" stroke="#111" stroke-width="0.18">Background</text>
<text x="64.2" y="271.7" font-size="7.3" text-anchor="middle" font-weight="normal" font-style="normal" fill="#111" textLength="14.6" lengthAdjust="spacingAndGlyphs" stroke="#111" stroke-width="0.18">Sites</text>
<text x="183.4" y="183.7" font-size="17.2" text-anchor="start" font-weight="bold" font-style="normal" fill="#000">C</text>
<text x="276.7" y="194.2" font-size="8.8" text-anchor="middle" font-weight="bold" font-style="normal" fill="#1a1a1a" textLength="111.2" lengthAdjust="spacingAndGlyphs">Promoters Marked by H3K4me3</text>
<rect x="213.4" y="200.8" width="124.6" height="1" fill="#c8c8c8"/>
<rect x="213.4" y="210.3" width="124.6" height="1" fill="#c8c8c8"/>
<rect x="213.4" y="219.9" width="124.6" height="1" fill="#c8c8c8"/>
<rect x="213.4" y="229.4" width="124.6" height="1" fill="#c8c8c8"/>
<rect x="212.8" y="201" width="1.2" height="39" fill="#555"/>
<rect x="213.4" y="238.9" width="124.6" height="1.2" fill="#555"/>
<rect x="210.6" y="200.8" width="2.8" height="1" fill="#555"/>
<rect x="210.6" y="210.3" width="2.8" height="1" fill="#555"/>
<rect x="210.6" y="219.9" width="2.8" height="1" fill="#555"/>
<rect x="210.6" y="229.4" width="2.8" height="1" fill="#555"/>
<rect x="210.6" y="239.0" width="2.8" height="1" fill="#555"/>
<rect x="212.9" y="240" width="1" height="2.6" fill="#555"/>
<rect x="244.1" y="240" width="1" height="2.6" fill="#555"/>
<rect x="275.2" y="240" width="1" height="2.6" fill="#555"/>
<rect x="306.4" y="240" width="1" height="2.6" fill="#555"/>
<rect x="337.5" y="240" width="1" height="2.6" fill="#555"/>
<rect x="222.7" y="218.1" width="12.6" height="21.4" fill="#000"/>
<rect x="253.8" y="205.1" width="12.6" height="34.4" fill="#000"/>
<rect x="285.0" y="202.1" width="12.6" height="37.4" fill="#000"/>
<rect x="316.1" y="201.3" width="12.6" height="38.2" fill="#000"/>
<text x="205" y="204.8" font-size="8.6" text-anchor="end" font-weight="normal" font-style="italic" fill="#222" textLength="18.6" lengthAdjust="spacingAndGlyphs" stroke="#333" stroke-width="0.05">100%</text>
<text x="205" y="214.3" font-size="8.6" text-anchor="end" font-weight="normal" font-style="italic" fill="#222" textLength="15.6" lengthAdjust="spacingAndGlyphs" stroke="#333" stroke-width="0.05">75%</text>
<text x="205" y="223.9" font-size="8.6" text-anchor="end" font-weight="normal" font-style="italic" fill="#222" textLength="15.6" lengthAdjust="spacingAndGlyphs" stroke="#333" stroke-width="0.05">50%</text>
<text x="205" y="233.4" font-size="8.6" text-anchor="end" font-weight="normal" font-style="italic" fill="#222" textLength="15.6" lengthAdjust="spacingAndGlyphs" stroke="#333" stroke-width="0.05">25%</text>
<text x="205" y="243" font-size="8.6" text-anchor="end" font-weight="normal" font-style="italic" fill="#222" textLength="10.8" lengthAdjust="spacingAndGlyphs" stroke="#333" stroke-width="0.05">0%</text>
<text x="228.975" y="253.1" font-size="8.1" text-anchor="middle" font-weight="normal" font-style="normal" fill="#1a1a1a" textLength="8.4" lengthAdjust="spacingAndGlyphs" stroke="#1a1a1a" stroke-width="0.1">All</text>
<text x="228.975" y="261.9" font-size="8.1" text-anchor="middle" font-weight="normal" font-style="normal" fill="#1a1a1a" textLength="34.7" lengthAdjust="spacingAndGlyphs" stroke="#1a1a1a" stroke-width="0.1">Promoters</text>
<text x="260.125" y="253.1" font-size="8.1" text-anchor="middle" font-weight="normal" font-style="normal" fill="#1a1a1a" textLength="24.7" lengthAdjust="spacingAndGlyphs" stroke="#1a1a1a" stroke-width="0.1">GATA2</text>
<text x="260.125" y="261.9" font-size="8.1" text-anchor="middle" font-weight="normal" font-style="normal" fill="#1a1a1a" textLength="21.8" lengthAdjust="spacingAndGlyphs" stroke="#1a1a1a" stroke-width="0.1">Bound</text>
<text x="291.275" y="253.1" font-size="8.1" text-anchor="middle" font-weight="normal" font-style="normal" fill="#1a1a1a" textLength="18.8" lengthAdjust="spacingAndGlyphs" stroke="#1a1a1a" stroke-width="0.1">ETS1</text>
<text x="291.275" y="261.9" font-size="8.1" text-anchor="middle" font-weight="normal" font-style="normal" fill="#1a1a1a" textLength="21.8" lengthAdjust="spacingAndGlyphs" stroke="#1a1a1a" stroke-width="0.1">Bound</text>
<text x="322.425" y="253.1" font-size="8.1" text-anchor="middle" font-weight="normal" font-style="normal" fill="#1a1a1a" textLength="24.7" lengthAdjust="spacingAndGlyphs" stroke="#1a1a1a" stroke-width="0.1">GATA2</text>
<text x="322.425" y="261.9" font-size="8.1" text-anchor="middle" font-weight="normal" font-style="normal" fill="#1a1a1a" textLength="26.0" lengthAdjust="spacingAndGlyphs" stroke="#1a1a1a" stroke-width="0.1">&amp; ETS1</text>
<text x="322.425" y="270.7" font-size="8.1" text-anchor="middle" font-weight="normal" font-style="normal" fill="#1a1a1a" textLength="21.8" lengthAdjust="spacingAndGlyphs" stroke="#1a1a1a" stroke-width="0.1">Bound</text>
<text x="356.4" y="184" font-size="17.2" text-anchor="start" font-weight="bold" font-style="normal" fill="#000">D</text>
<text x="450" y="194.2" font-size="8.8" text-anchor="middle" font-weight="bold" font-style="normal" fill="#1a1a1a" textLength="102.2" lengthAdjust="spacingAndGlyphs">Regions Marked by H3K4me3</text>
<rect x="388" y="200.8" width="124" height="1" fill="#c8c8c8"/>
<rect x="388" y="210.3" width="124" height="1" fill="#c8c8c8"/>
<rect x="388" y="219.9" width="124" height="1" fill="#c8c8c8"/>
<rect x="388" y="229.4" width="124" height="1" fill="#c8c8c8"/>
<rect x="387.4" y="201" width="1.2" height="39" fill="#555"/>
<rect x="388" y="238.9" width="124" height="1.2" fill="#555"/>
<rect x="385.2" y="200.8" width="2.8" height="1" fill="#555"/>
<rect x="385.2" y="210.3" width="2.8" height="1" fill="#555"/>
<rect x="385.2" y="219.9" width="2.8" height="1" fill="#555"/>
<rect x="385.2" y="229.4" width="2.8" height="1" fill="#555"/>
<rect x="385.2" y="239.0" width="2.8" height="1" fill="#555"/>
<rect x="387.5" y="240" width="1" height="2.6" fill="#555"/>
<rect x="418.5" y="240" width="1" height="2.6" fill="#555"/>
<rect x="449.5" y="240" width="1" height="2.6" fill="#555"/>
<rect x="480.5" y="240" width="1" height="2.6" fill="#555"/>
<rect x="511.5" y="240" width="1" height="2.6" fill="#555"/>
<rect x="397.2" y="238.4" width="12.6" height="1.1" fill="#000"/>
<rect x="428.2" y="223.1" width="12.6" height="16.4" fill="#000"/>
<rect x="459.2" y="234.2" width="12.6" height="5.3" fill="#000"/>
<rect x="490.2" y="204.4" width="12.6" height="35.1" fill="#000"/>
<text x="379" y="204.8" font-size="8.6" text-anchor="end" font-weight="normal" font-style="italic" fill="#222" textLength="18.6" lengthAdjust="spacingAndGlyphs" stroke="#333" stroke-width="0.05">100%</text>
<text x="379" y="214.3" font-size="8.6" text-anchor="end" font-weight="normal" font-style="italic" fill="#222" textLength="15.6" lengthAdjust="spacingAndGlyphs" stroke="#333" stroke-width="0.05">75%</text>
<text x="379" y="223.9" font-size="8.6" text-anchor="end" font-weight="normal" font-style="italic" fill="#222" textLength="15.6" lengthAdjust="spacingAndGlyphs" stroke="#333" stroke-width="0.05">50%</text>
<text x="379" y="233.4" font-size="8.6" text-anchor="end" font-weight="normal" font-style="italic" fill="#222" textLength="15.6" lengthAdjust="spacingAndGlyphs" stroke="#333" stroke-width="0.05">25%</text>
<text x="379" y="243" font-size="8.6" text-anchor="end" font-weight="normal" font-style="italic" fill="#222" textLength="10.8" lengthAdjust="spacingAndGlyphs" stroke="#333" stroke-width="0.05">0%</text>
<text x="403.5" y="253.1" font-size="8.1" text-anchor="middle" font-weight="normal" font-style="normal" fill="#1a1a1a" textLength="19.7" lengthAdjust="spacingAndGlyphs" stroke="#1a1a1a" stroke-width="0.1">Entire</text>
<text x="403.5" y="261.9" font-size="8.1" text-anchor="middle" font-weight="normal" font-style="normal" fill="#1a1a1a" textLength="28.9" lengthAdjust="spacingAndGlyphs" stroke="#1a1a1a" stroke-width="0.1">Genome</text>
<text x="434.5" y="253.1" font-size="8.1" text-anchor="middle" font-weight="normal" font-style="normal" fill="#1a1a1a" textLength="24.7" lengthAdjust="spacingAndGlyphs" stroke="#1a1a1a" stroke-width="0.1">GATA2</text>
<text x="434.5" y="261.9" font-size="8.1" text-anchor="middle" font-weight="normal" font-style="normal" fill="#1a1a1a" textLength="21.8" lengthAdjust="spacingAndGlyphs" stroke="#1a1a1a" stroke-width="0.1">Bound</text>
<text x="465.5" y="253.1" font-size="8.1" text-anchor="middle" font-weight="normal" font-style="normal" fill="#1a1a1a" textLength="18.8" lengthAdjust="spacingAndGlyphs" stroke="#1a1a1a" stroke-width="0.1">ETS1</text>
<text x="465.5" y="261.9" font-size="8.1" text-anchor="middle" font-weight="normal" font-style="normal" fill="#1a1a1a" textLength="21.8" lengthAdjust="spacingAndGlyphs" stroke="#1a1a1a" stroke-width="0.1">Bound</text>
<text x="496.5" y="253.1" font-size="8.1" text-anchor="middle" font-weight="normal" font-style="normal" fill="#1a1a1a" textLength="24.7" lengthAdjust="spacingAndGlyphs" stroke="#1a1a1a" stroke-width="0.1">GATA2</text>
<text x="496.5" y="261.9" font-size="8.1" text-anchor="middle" font-weight="normal" font-style="normal" fill="#1a1a1a" textLength="26.0" lengthAdjust="spacingAndGlyphs" stroke="#1a1a1a" stroke-width="0.1">&amp; ETS1</text>
<text x="496.5" y="270.7" font-size="8.1" text-anchor="middle" font-weight="normal" font-style="normal" fill="#1a1a1a" textLength="21.8" lengthAdjust="spacingAndGlyphs" stroke="#1a1a1a" stroke-width="0.1">Bound</text>
<text x="8.1" y="300.6" font-size="17.2" text-anchor="start" font-weight="bold" font-style="normal" fill="#000">E</text>
<text x="97.35" y="313.2" font-size="8.6" text-anchor="middle" font-weight="normal" font-style="normal" fill="#111" textLength="63.6" lengthAdjust="spacingAndGlyphs" stroke="#111" stroke-width="0.32">GATA2 Selective</text>
<rect x="34.2" y="309.6" width="0.8" height="90.39999999999998" fill="#b0b0b0"/>
<rect x="32.800000000000004" y="398.6" width="1.8" height="0.7" fill="#999"/>
<text x="32.1" y="401.2" font-size="6.5" text-anchor="end" font-weight="normal" font-style="italic" fill="#222" textLength="3.2" lengthAdjust="spacingAndGlyphs" stroke="#222" stroke-width="0.15">0</text>
<rect x="32.800000000000004" y="383.9" width="1.8" height="0.7" fill="#999"/>
<text x="32.1" y="386.46666666666664" font-size="6.5" text-anchor="end" font-weight="normal" font-style="italic" fill="#222" textLength="3.2" lengthAdjust="spacingAndGlyphs" stroke="#222" stroke-width="0.15">5</text>
<rect x="32.800000000000004" y="369.2" width="1.8" height="0.7" fill="#999"/>
<text x="32.1" y="371.73333333333335" font-size="6.5" text-anchor="end" font-weight="normal" font-style="italic" fill="#222" textLength="6.4" lengthAdjust="spacingAndGlyphs" stroke="#222" stroke-width="0.15">10</text>
<rect x="32.800000000000004" y="354.4" width="1.8" height="0.7" fill="#999"/>
<text x="32.1" y="357.0" font-size="6.5" text-anchor="end" font-weight="normal" font-style="italic" fill="#222" textLength="6.4" lengthAdjust="spacingAndGlyphs" stroke="#222" stroke-width="0.15">15</text>
<rect x="32.800000000000004" y="339.7" width="1.8" height="0.7" fill="#999"/>
<text x="32.1" y="342.26666666666665" font-size="6.5" text-anchor="end" font-weight="normal" font-style="italic" fill="#222" textLength="6.4" lengthAdjust="spacingAndGlyphs" stroke="#222" stroke-width="0.15">20</text>
<rect x="32.800000000000004" y="325.0" width="1.8" height="0.7" fill="#999"/>
<text x="32.1" y="327.53333333333336" font-size="6.5" text-anchor="end" font-weight="normal" font-style="italic" fill="#222" textLength="6.4" lengthAdjust="spacingAndGlyphs" stroke="#222" stroke-width="0.15">25</text>
<rect x="32.800000000000004" y="310.2" width="1.8" height="0.7" fill="#999"/>
<text x="32.1" y="312.8" font-size="6.5" text-anchor="end" font-weight="normal" font-style="italic" fill="#222" textLength="6.4" lengthAdjust="spacingAndGlyphs" stroke="#222" stroke-width="0.15">30</text>
<rect x="49.7" y="401.6" width="102.49999999999999" height="0.8" fill="#b8b8b8"/>
<rect x="49.300000000000004" y="402" width="0.8" height="1.6" fill="#aaa"/>
<rect x="49.35" y="384.4" width="0.7" height="4.600000000000023" fill="#bbb"/>
<rect x="45.900000000000006" y="384.0" width="7.6" height="0.8" fill="#b4b4b4"/>
<rect x="49.35" y="393.1" width="0.7" height="1.599999999999966" fill="#bbb"/>
<rect x="45.900000000000006" y="394.3" width="7.6" height="0.8" fill="#b4b4b4"/>
<rect x="41.9" y="389.4" width="15.599999999999998" height="3.300000000000023" fill="#137313" stroke="#0a4a0a" stroke-width="0.8"/>
<rect x="41.5" y="390.5" width="16.4" height="1" fill="#0a4a0a"/>
<text x="48.2" y="409.3" font-size="6.4" text-anchor="middle" font-weight="normal" font-style="normal" fill="#3a3a3a" textLength="15.5" lengthAdjust="spacingAndGlyphs">GATA1</text>
<rect x="69.8" y="402" width="0.8" height="1.6" fill="#aaa"/>
<rect x="69.85000000000001" y="325" width="0.7" height="24.5" fill="#bbb"/>
<rect x="66.4" y="324.6" width="7.6" height="0.8" fill="#b4b4b4"/>
<rect x="69.85000000000001" y="377.8" width="0.7" height="8.699999999999989" fill="#bbb"/>
<rect x="66.4" y="386.1" width="7.6" height="0.8" fill="#b4b4b4"/>
<rect x="62.4" y="349.9" width="15.599999999999998" height="27.50000000000001" fill="#0b0bac" stroke="#00006a" stroke-width="0.8"/>
<rect x="62.0" y="369.5" width="16.4" height="1" fill="#00006a"/>
<text x="68.8" y="409.3" font-size="6.4" text-anchor="middle" font-weight="normal" font-style="normal" fill="#3a3a3a" textLength="15.5" lengthAdjust="spacingAndGlyphs">GATA2</text>
<rect x="90.3" y="402" width="0.8" height="1.6" fill="#aaa"/>
<rect x="90.35000000000001" y="392.6" width="0.7" height="1.1999999999999886" fill="#bbb"/>
<rect x="86.9" y="392.20000000000005" width="7.6" height="0.8" fill="#b4b4b4"/>
<rect x="90.35000000000001" y="398.5" width="0.7" height="0.5" fill="#bbb"/>
<rect x="86.9" y="398.6" width="7.6" height="0.8" fill="#b4b4b4"/>
<rect x="82.9" y="394.2" width="15.599999999999998" height="3.899999999999989" fill="#f7901e" stroke="#b85a08" stroke-width="0.8"/>
<rect x="82.5" y="396.0" width="16.4" height="1" fill="#b85a08"/>
<text x="91.10000000000001" y="409.3" font-size="6.4" text-anchor="middle" font-weight="normal" font-style="normal" fill="#3a3a3a" textLength="12.5" lengthAdjust="spacingAndGlyphs">ETS1</text>
<rect x="110.6" y="402" width="0.8" height="1.6" fill="#aaa"/>
<rect x="110.65" y="380" width="0.7" height="4" fill="#bbb"/>
<rect x="107.2" y="379.6" width="7.6" height="0.8" fill="#b4b4b4"/>
<rect x="110.65" y="397" width="0.7" height="1.6000000000000227" fill="#bbb"/>
<rect x="107.2" y="398.20000000000005" width="7.6" height="0.8" fill="#b4b4b4"/>
<rect x="103.2" y="384.4" width="15.599999999999998" height="12.2" fill="#1a9b9b" stroke="#0a6464" stroke-width="0.8"/>
<text x="111" y="409.3" font-size="6.4" text-anchor="middle" font-weight="normal" font-style="normal" fill="#3a3a3a" textLength="22.2" lengthAdjust="spacingAndGlyphs">H3K4me3</text>
<rect x="131.29999999999998" y="402" width="0.8" height="1.6" fill="#aaa"/>
<rect x="131.35" y="394.5" width="0.7" height="0.8999999999999773" fill="#bbb"/>
<rect x="127.89999999999999" y="394.1" width="7.6" height="0.8" fill="#b4b4b4"/>
<rect x="131.35" y="398.6" width="0.7" height="0.39999999999997726" fill="#bbb"/>
<rect x="127.89999999999999" y="398.6" width="7.6" height="0.8" fill="#b4b4b4"/>
<rect x="123.89999999999999" y="395.79999999999995" width="15.599999999999998" height="2.4000000000000457" fill="#920f98" stroke="#5a005e" stroke-width="0.8"/>
<text x="134.29999999999998" y="409.3" font-size="6.4" text-anchor="middle" font-weight="normal" font-style="normal" fill="#3a3a3a" textLength="24.6" lengthAdjust="spacingAndGlyphs">H3K27me3</text>
<rect x="151.79999999999998" y="402" width="0.8" height="1.6" fill="#aaa"/>
<rect x="151.85" y="381" width="0.7" height="4.600000000000023" fill="#bbb"/>
<rect x="148.39999999999998" y="380.6" width="7.6" height="0.8" fill="#b4b4b4"/>
<rect x="151.85" y="398.6" width="0.7" height="0.39999999999997726" fill="#bbb"/>
<rect x="148.39999999999998" y="398.6" width="7.6" height="0.8" fill="#b4b4b4"/>
<rect x="144.4" y="386.0" width="15.599999999999998" height="12.2" fill="#3e3e3e" stroke="#1a1a1a" stroke-width="0.8"/>
<rect x="144.0" y="393.9" width="16.4" height="1" fill="#1a1a1a"/>
<text x="153.89999999999998" y="409.3" font-size="6.4" text-anchor="middle" font-weight="normal" font-style="normal" fill="#3a3a3a" textLength="13.4" lengthAdjust="spacingAndGlyphs">POL II</text>
<text x="100" y="415.8" font-size="6.6" text-anchor="middle" font-weight="normal" font-style="normal" fill="#2a2a2a" textLength="48" lengthAdjust="spacingAndGlyphs">ChIP-Seq Dataset</text>
<text transform="translate(23.1,354.8) rotate(-90)" font-size="4.6" text-anchor="middle" fill="#444" textLength="87" lengthAdjust="spacingAndGlyphs">Tag Count per 200bp Region per 10 million reads</text>
<text x="186.1" y="301.6" font-size="17.2" text-anchor="start" font-weight="bold" font-style="normal" fill="#000">F</text>
<text x="267.65" y="313.2" font-size="8.6" text-anchor="middle" font-weight="normal" font-style="normal" fill="#111" textLength="56.9" lengthAdjust="spacingAndGlyphs" stroke="#111" stroke-width="0.32">ETS1 Selective</text>
<rect x="204.6" y="309" width="0.8" height="90.60000000000002" fill="#b0b0b0"/>
<rect x="203.2" y="398.2" width="1.8" height="0.7" fill="#999"/>
<text x="202.5" y="400.8" font-size="6.5" text-anchor="end" font-weight="normal" font-style="italic" fill="#222" textLength="3.2" lengthAdjust="spacingAndGlyphs" stroke="#222" stroke-width="0.15">0</text>
<rect x="203.2" y="380.5" width="1.8" height="0.7" fill="#999"/>
<text x="202.5" y="383.08" font-size="6.5" text-anchor="end" font-weight="normal" font-style="italic" fill="#222" textLength="3.2" lengthAdjust="spacingAndGlyphs" stroke="#222" stroke-width="0.15">2</text>
<rect x="203.2" y="362.8" width="1.8" height="0.7" fill="#999"/>
<text x="202.5" y="365.36" font-size="6.5" text-anchor="end" font-weight="normal" font-style="italic" fill="#222" textLength="3.2" lengthAdjust="spacingAndGlyphs" stroke="#222" stroke-width="0.15">4</text>
<rect x="203.2" y="345.1" width="1.8" height="0.7" fill="#999"/>
<text x="202.5" y="347.64" font-size="6.5" text-anchor="end" font-weight="normal" font-style="italic" fill="#222" textLength="3.2" lengthAdjust="spacingAndGlyphs" stroke="#222" stroke-width="0.15">6</text>
<rect x="203.2" y="327.4" width="1.8" height="0.7" fill="#999"/>
<text x="202.5" y="329.92" font-size="6.5" text-anchor="end" font-weight="normal" font-style="italic" fill="#222" textLength="3.2" lengthAdjust="spacingAndGlyphs" stroke="#222" stroke-width="0.15">8</text>
<rect x="203.2" y="309.6" width="1.8" height="0.7" fill="#999"/>
<text x="202.5" y="312.2" font-size="6.5" text-anchor="end" font-weight="normal" font-style="italic" fill="#222" textLength="6.4" lengthAdjust="spacingAndGlyphs" stroke="#222" stroke-width="0.15">10</text>
<rect x="220.3" y="401.6" width="102.0" height="0.8" fill="#b8b8b8"/>
<rect x="219.9" y="402" width="0.8" height="1.6" fill="#aaa"/>
<rect x="219.95000000000002" y="381" width="0.7" height="5" fill="#bbb"/>
<rect x="216.5" y="380.6" width="7.6" height="0.8" fill="#b4b4b4"/>
<rect x="212.50000000000003" y="386.4" width="15.599999999999998" height="11.800000000000022" fill="#137313" stroke="#0a4a0a" stroke-width="0.8"/>
<rect x="212.10000000000002" y="392.9" width="16.4" height="1" fill="#0a4a0a"/>
<text x="218.8" y="409.3" font-size="6.4" text-anchor="middle" font-weight="normal" font-style="normal" fill="#3a3a3a" textLength="15.5" lengthAdjust="spacingAndGlyphs">GATA1</text>
<rect x="240.29999999999998" y="402" width="0.8" height="1.6" fill="#aaa"/>
<rect x="240.35" y="376.4" width="0.7" height="11.600000000000023" fill="#bbb"/>
<rect x="236.89999999999998" y="376.0" width="7.6" height="0.8" fill="#b4b4b4"/>
<rect x="232.9" y="388.4" width="15.599999999999998" height="9.800000000000022" fill="#0b0bac" stroke="#00006a" stroke-width="0.8"/>
<rect x="232.5" y="394.5" width="16.4" height="1" fill="#00006a"/>
<text x="239.29999999999998" y="409.3" font-size="6.4" text-anchor="middle" font-weight="normal" font-style="normal" fill="#3a3a3a" textLength="15.5" lengthAdjust="spacingAndGlyphs">GATA2</text>
<rect x="260.6" y="402" width="0.8" height="1.6" fill="#aaa"/>
<rect x="260.65" y="319.4" width="0.7" height="17.200000000000045" fill="#bbb"/>
<rect x="257.2" y="319.0" width="7.6" height="0.8" fill="#b4b4b4"/>
<rect x="260.65" y="361.4" width="0.7" height="4.900000000000034" fill="#bbb"/>
<rect x="257.2" y="365.90000000000003" width="7.6" height="0.8" fill="#b4b4b4"/>
<rect x="253.20000000000002" y="337.0" width="15.599999999999998" height="23.999999999999954" fill="#f7901e" stroke="#b85a08" stroke-width="0.8"/>
<rect x="252.8" y="350.5" width="16.4" height="1" fill="#b85a08"/>
<text x="261.4" y="409.3" font-size="6.4" text-anchor="middle" font-weight="normal" font-style="normal" fill="#3a3a3a" textLength="12.5" lengthAdjust="spacingAndGlyphs">ETS1</text>
<rect x="280.8" y="402" width="0.8" height="1.6" fill="#aaa"/>
<rect x="280.84999999999997" y="393.4" width="0.7" height="4.600000000000023" fill="#bbb"/>
<rect x="277.4" y="397.6" width="7.6" height="0.8" fill="#b4b4b4"/>
<rect x="273.4" y="388.4" width="15.599999999999998" height="4.599999999999977" fill="#1a9b9b" stroke="#0a6464" stroke-width="0.8"/>
<rect x="273.0" y="390.5" width="16.4" height="1" fill="#0a6464"/>
<text x="281.2" y="409.3" font-size="6.4" text-anchor="middle" font-weight="normal" font-style="normal" fill="#3a3a3a" textLength="22.2" lengthAdjust="spacingAndGlyphs">H3K4me3</text>
<rect x="301.6" y="402" width="0.8" height="1.6" fill="#aaa"/>
<rect x="301.65" y="356.4" width="0.7" height="18.600000000000023" fill="#bbb"/>
<rect x="298.2" y="356.0" width="7.6" height="0.8" fill="#b4b4b4"/>
<rect x="301.65" y="394" width="0.7" height="4" fill="#bbb"/>
<rect x="298.2" y="397.6" width="7.6" height="0.8" fill="#b4b4b4"/>
<rect x="294.2" y="375.4" width="15.599999999999998" height="18.2" fill="#920f98" stroke="#5a005e" stroke-width="0.8"/>
<rect x="293.8" y="388.9" width="16.4" height="1" fill="#5a005e"/>
<text x="304.6" y="409.3" font-size="6.4" text-anchor="middle" font-weight="normal" font-style="normal" fill="#3a3a3a" textLength="24.6" lengthAdjust="spacingAndGlyphs">H3K27me3</text>
<rect x="321.90000000000003" y="402" width="0.8" height="1.6" fill="#aaa"/>
<rect x="314.1" y="397.8" width="16.4" height="1.6" fill="#888"/>
<text x="324.0" y="409.3" font-size="6.4" text-anchor="middle" font-weight="normal" font-style="normal" fill="#3a3a3a" textLength="13.4" lengthAdjust="spacingAndGlyphs">POL II</text>
<text x="270.3" y="415.8" font-size="6.6" text-anchor="middle" font-weight="normal" font-style="normal" fill="#2a2a2a" textLength="48" lengthAdjust="spacingAndGlyphs">ChIP-Seq Dataset</text>
<text x="355.1" y="300.4" font-size="17.2" text-anchor="start" font-weight="bold" font-style="normal" fill="#000">G</text>
<text x="444.1" y="313.2" font-size="8.6" text-anchor="middle" font-weight="normal" font-style="normal" fill="#111" textLength="79.2" lengthAdjust="spacingAndGlyphs" stroke="#111" stroke-width="0.32">GATA2/ETS1 Shared</text>
<rect x="381.20000000000005" y="309.4" width="0.8" height="90.20000000000005" fill="#b0b0b0"/>
<rect x="379.8" y="398.2" width="1.8" height="0.7" fill="#999"/>
<text x="379.1" y="400.8" font-size="6.5" text-anchor="end" font-weight="normal" font-style="italic" fill="#222" textLength="3.2" lengthAdjust="spacingAndGlyphs" stroke="#222" stroke-width="0.15">0</text>
<rect x="379.8" y="383.6" width="1.8" height="0.7" fill="#999"/>
<text x="379.1" y="386.1" font-size="6.5" text-anchor="end" font-weight="normal" font-style="italic" fill="#222" textLength="6.4" lengthAdjust="spacingAndGlyphs" stroke="#222" stroke-width="0.15">20</text>
<rect x="379.8" y="368.8" width="1.8" height="0.7" fill="#999"/>
<text x="379.1" y="371.4" font-size="6.5" text-anchor="end" font-weight="normal" font-style="italic" fill="#222" textLength="6.4" lengthAdjust="spacingAndGlyphs" stroke="#222" stroke-width="0.15">40</text>
<rect x="379.8" y="354.1" width="1.8" height="0.7" fill="#999"/>
<text x="379.1" y="356.7" font-size="6.5" text-anchor="end" font-weight="normal" font-style="italic" fill="#222" textLength="6.4" lengthAdjust="spacingAndGlyphs" stroke="#222" stroke-width="0.15">60</text>
<rect x="379.8" y="339.4" width="1.8" height="0.7" fill="#999"/>
<text x="379.1" y="342.0" font-size="6.5" text-anchor="end" font-weight="normal" font-style="italic" fill="#222" textLength="6.4" lengthAdjust="spacingAndGlyphs" stroke="#222" stroke-width="0.15">80</text>
<rect x="379.8" y="324.7" width="1.8" height="0.7" fill="#999"/>
<text x="379.1" y="327.29999999999995" font-size="6.5" text-anchor="end" font-weight="normal" font-style="italic" fill="#222" textLength="9.6" lengthAdjust="spacingAndGlyphs" stroke="#222" stroke-width="0.15">100</text>
<rect x="379.8" y="310.0" width="1.8" height="0.7" fill="#999"/>
<text x="379.1" y="312.59999999999997" font-size="6.5" text-anchor="end" font-weight="normal" font-style="italic" fill="#222" textLength="9.6" lengthAdjust="spacingAndGlyphs" stroke="#222" stroke-width="0.15">120</text>
<rect x="396.5" y="401.6" width="102.19999999999999" height="0.8" fill="#b8b8b8"/>
<rect x="396.1" y="402" width="0.8" height="1.6" fill="#aaa"/>
<rect x="396.15" y="386.3" width="0.7" height="1.6999999999999886" fill="#bbb"/>
<rect x="392.7" y="385.90000000000003" width="7.6" height="0.8" fill="#b4b4b4"/>
<rect x="396.15" y="396.8" width="0.7" height="1.1999999999999886" fill="#bbb"/>
<rect x="392.7" y="397.6" width="7.6" height="0.8" fill="#b4b4b4"/>
<rect x="388.7" y="388.4" width="15.599999999999998" height="8.00000000000001" fill="#137313" stroke="#0a4a0a" stroke-width="0.8"/>
<text x="395.0" y="409.3" font-size="6.4" text-anchor="middle" font-weight="normal" font-style="normal" fill="#3a3a3a" textLength="15.5" lengthAdjust="spacingAndGlyphs">GATA1</text>
<rect x="416.6" y="402" width="0.8" height="1.6" fill="#aaa"/>
<rect x="416.65" y="364" width="0.7" height="4" fill="#bbb"/>
<rect x="413.2" y="363.6" width="7.6" height="0.8" fill="#b4b4b4"/>
<rect x="416.65" y="395.5" width="0.7" height="2.0" fill="#bbb"/>
<rect x="413.2" y="397.1" width="7.6" height="0.8" fill="#b4b4b4"/>
<rect x="409.2" y="368.4" width="15.599999999999998" height="26.7" fill="#0b0bac" stroke="#00006a" stroke-width="0.8"/>
<text x="415.6" y="409.3" font-size="6.4" text-anchor="middle" font-weight="normal" font-style="normal" fill="#3a3a3a" textLength="15.5" lengthAdjust="spacingAndGlyphs">GATA2</text>
<rect x="437.1" y="402" width="0.8" height="1.6" fill="#aaa"/>
<rect x="437.15" y="385" width="0.7" height="3.6000000000000227" fill="#bbb"/>
<rect x="433.7" y="384.6" width="7.6" height="0.8" fill="#b4b4b4"/>
<rect x="437.15" y="393.4" width="0.7" height="1.6000000000000227" fill="#bbb"/>
<rect x="433.7" y="394.6" width="7.6" height="0.8" fill="#b4b4b4"/>
<rect x="429.7" y="389.0" width="15.599999999999998" height="3.9999999999999547" fill="#f7901e" stroke="#b85a08" stroke-width="0.8"/>
<rect x="429.3" y="390.9" width="16.4" height="1" fill="#b85a08"/>
<text x="437.9" y="409.3" font-size="6.4" text-anchor="middle" font-weight="normal" font-style="normal" fill="#3a3a3a" textLength="12.5" lengthAdjust="spacingAndGlyphs">ETS1</text>
<rect x="457.40000000000003" y="402" width="0.8" height="1.6" fill="#aaa"/>
<rect x="457.45" y="342" width="0.7" height="26" fill="#bbb"/>
<rect x="454.0" y="341.6" width="7.6" height="0.8" fill="#b4b4b4"/>
<rect x="457.45" y="386.6" width="0.7" height="9.799999999999955" fill="#bbb"/>
<rect x="454.0" y="396.0" width="7.6" height="0.8" fill="#b4b4b4"/>
<rect x="450.0" y="368.4" width="15.599999999999998" height="17.800000000000022" fill="#1a9b9b" stroke="#0a6464" stroke-width="0.8"/>
<rect x="449.6" y="378.5" width="16.4" height="1" fill="#0a6464"/>
<text x="457.8" y="409.3" font-size="6.4" text-anchor="middle" font-weight="normal" font-style="normal" fill="#3a3a3a" textLength="22.2" lengthAdjust="spacingAndGlyphs">H3K4me3</text>
<rect x="477.8" y="402" width="0.8" height="1.6" fill="#aaa"/>
<rect x="470.0" y="397.8" width="16.4" height="1.6" fill="#888"/>
<text x="480.8" y="409.3" font-size="6.4" text-anchor="middle" font-weight="normal" font-style="normal" fill="#3a3a3a" textLength="24.6" lengthAdjust="spacingAndGlyphs">H3K27me3</text>
<rect x="498.3" y="402" width="0.8" height="1.6" fill="#aaa"/>
<rect x="498.34999999999997" y="320" width="0.7" height="28.600000000000023" fill="#bbb"/>
<rect x="494.9" y="319.6" width="7.6" height="0.8" fill="#b4b4b4"/>
<rect x="498.34999999999997" y="374.6" width="0.7" height="16.399999999999977" fill="#bbb"/>
<rect x="494.9" y="390.6" width="7.6" height="0.8" fill="#b4b4b4"/>
<rect x="490.9" y="349.0" width="15.599999999999998" height="25.2" fill="#3e3e3e" stroke="#1a1a1a" stroke-width="0.8"/>
<rect x="490.5" y="371.0" width="16.4" height="1" fill="#1a1a1a"/>
<text x="500.4" y="409.3" font-size="6.4" text-anchor="middle" font-weight="normal" font-style="normal" fill="#3a3a3a" textLength="13.4" lengthAdjust="spacingAndGlyphs">POL II</text>
<text x="446.5" y="415.8" font-size="6.6" text-anchor="middle" font-weight="normal" font-style="normal" fill="#2a2a2a" textLength="48" lengthAdjust="spacingAndGlyphs">ChIP-Seq Dataset</text>
</svg>
</body></html>
